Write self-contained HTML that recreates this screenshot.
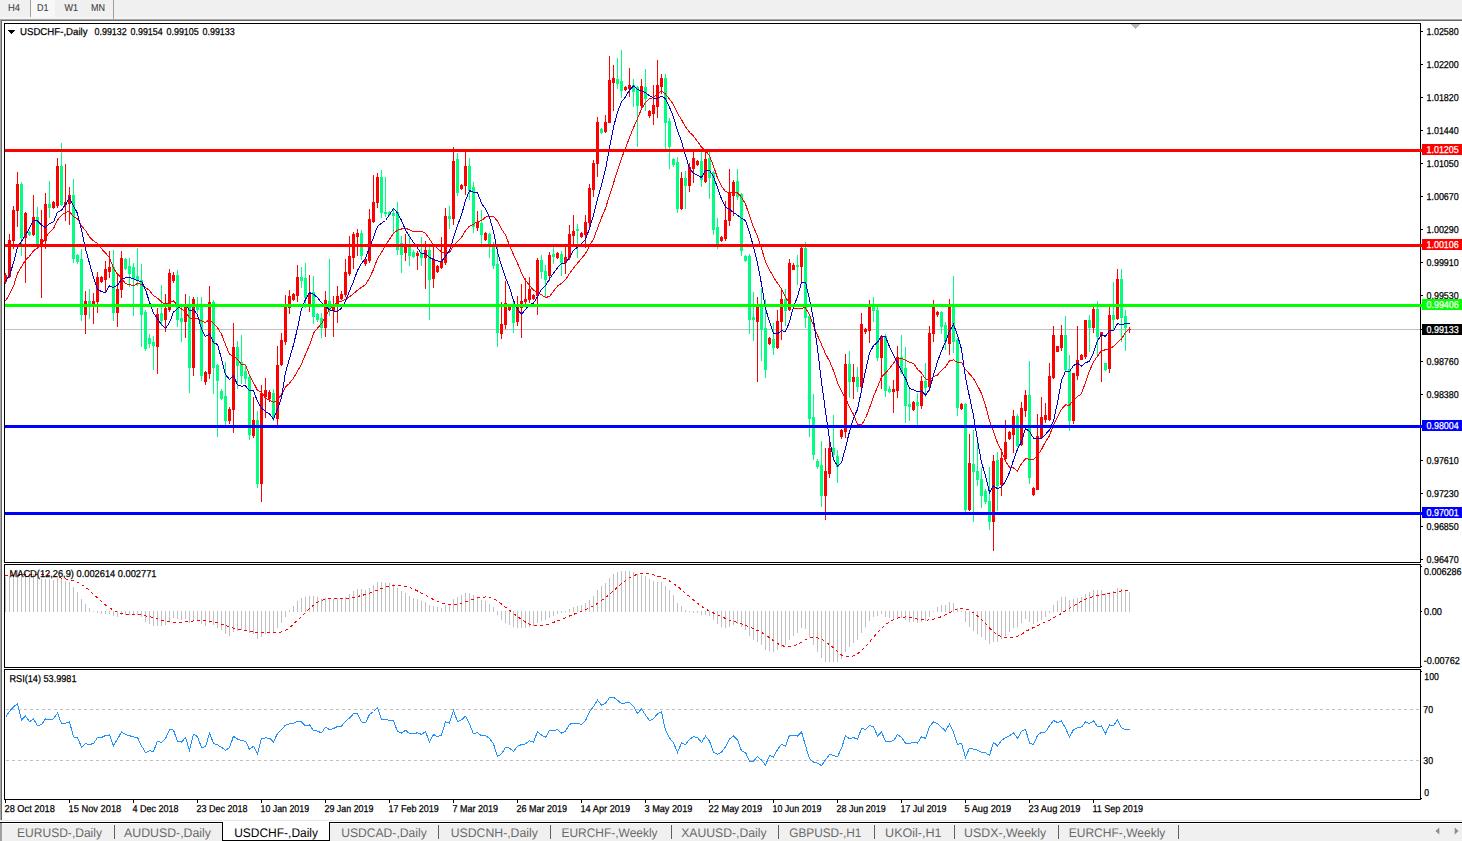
<!DOCTYPE html>
<html><head><meta charset="utf-8"><title>USDCHF-,Daily</title>
<style>html,body{margin:0;padding:0;background:#fff;overflow:hidden}body{width:1462px;height:841px;font-family:"Liberation Sans",sans-serif}text{text-rendering:geometricPrecision}</style></head>
<body>
<svg width="1462" height="841" viewBox="0 0 1462 841" shape-rendering="crispEdges" font-family="'Liberation Sans', sans-serif" style="display:block">
<rect x="0" y="0" width="1462" height="841" fill="#ffffff"/>
<rect x="0" y="0" width="1462" height="19" fill="#f0f0f0"/>
<rect x="0" y="17" width="1462" height="2" fill="#f4f4f4"/>
<rect x="0" y="19" width="1462" height="1" fill="#a6a6a6"/>
<rect x="0" y="20" width="1462" height="1" fill="#696969"/>
<rect x="0" y="19" width="1" height="802" fill="#a6a6a6"/>
<rect x="1" y="20" width="1" height="801" fill="#696969"/>
<rect x="31" y="0" width="24" height="17" fill="#f8f8f8"/>
<rect x="30" y="0" width="1" height="17" fill="#a0a0a0"/>
<rect x="113" y="0" width="1" height="19" fill="#a0a0a0"/>
<text x="8" y="11" font-size="10" fill="#404040" stroke="#404040" stroke-width="0.1" textLength="12" lengthAdjust="spacingAndGlyphs" >H4</text>
<text x="37" y="11" font-size="10" fill="#404040" stroke="#404040" stroke-width="0.1" textLength="11.5" lengthAdjust="spacingAndGlyphs" >D1</text>
<text x="64.5" y="11" font-size="10" fill="#404040" stroke="#404040" stroke-width="0.1" textLength="13.5" lengthAdjust="spacingAndGlyphs" >W1</text>
<text x="91" y="11" font-size="10" fill="#404040" stroke="#404040" stroke-width="0.1" textLength="14" lengthAdjust="spacingAndGlyphs" >MN</text>
<rect x="4" y="23" width="1417" height="1" fill="#000"/>
<rect x="4" y="562" width="1417" height="1" fill="#000"/>
<rect x="4" y="23" width="1" height="540" fill="#000"/>
<rect x="1420" y="23" width="1" height="540" fill="#000"/>
<rect x="4" y="564" width="1417" height="1" fill="#000"/>
<rect x="4" y="667" width="1417" height="1" fill="#000"/>
<rect x="4" y="564" width="1" height="104" fill="#000"/>
<rect x="1420" y="564" width="1" height="104" fill="#000"/>
<rect x="4" y="669" width="1417" height="1" fill="#000"/>
<rect x="4" y="799" width="1417" height="1" fill="#000"/>
<rect x="4" y="669" width="1" height="131" fill="#000"/>
<rect x="1420" y="669" width="1" height="131" fill="#000"/>
<rect x="5" y="329" width="1415" height="1" fill="#c0c0c0"/>
<rect x="5" y="273" width="1" height="11" fill="#ff0000"/>
<rect x="4" y="275" width="3" height="7" fill="#ff0000"/>
<rect x="9" y="234" width="1" height="44" fill="#ff0000"/>
<rect x="8" y="240" width="3" height="37" fill="#ff0000"/>
<rect x="13" y="206" width="1" height="43" fill="#ff0000"/>
<rect x="12" y="210" width="3" height="31" fill="#ff0000"/>
<rect x="17" y="172" width="1" height="55" fill="#ff0000"/>
<rect x="16" y="184" width="3" height="27" fill="#ff0000"/>
<rect x="21" y="182" width="1" height="74" fill="#00ff80"/>
<rect x="20" y="184" width="3" height="54" fill="#00ff80"/>
<rect x="25" y="212" width="1" height="71" fill="#ff0000"/>
<rect x="24" y="213" width="3" height="25" fill="#ff0000"/>
<rect x="29" y="231" width="1" height="5" fill="#00ff80"/>
<rect x="28" y="232" width="3" height="3" fill="#00ff80"/>
<rect x="33" y="195" width="1" height="41" fill="#ff0000"/>
<rect x="32" y="217" width="3" height="18" fill="#ff0000"/>
<rect x="37" y="207" width="1" height="38" fill="#00ff80"/>
<rect x="36" y="217" width="3" height="28" fill="#00ff80"/>
<rect x="41" y="210" width="1" height="88" fill="#ff0000"/>
<rect x="40" y="239" width="3" height="6" fill="#ff0000"/>
<rect x="45" y="193" width="1" height="56" fill="#ff0000"/>
<rect x="44" y="204" width="3" height="37" fill="#ff0000"/>
<rect x="49" y="181" width="1" height="37" fill="#00ff80"/>
<rect x="48" y="204" width="3" height="4" fill="#00ff80"/>
<rect x="53" y="201" width="1" height="8" fill="#ff0000"/>
<rect x="52" y="202" width="3" height="6" fill="#ff0000"/>
<rect x="57" y="158" width="1" height="50" fill="#ff0000"/>
<rect x="56" y="166" width="3" height="40" fill="#ff0000"/>
<rect x="61" y="143" width="1" height="63" fill="#00ff80"/>
<rect x="60" y="166" width="3" height="39" fill="#00ff80"/>
<rect x="65" y="164" width="1" height="57" fill="#ff0000"/>
<rect x="64" y="202" width="3" height="3" fill="#ff0000"/>
<rect x="69" y="187" width="1" height="38" fill="#ff0000"/>
<rect x="68" y="195" width="3" height="9" fill="#ff0000"/>
<rect x="73" y="179" width="1" height="84" fill="#00ff80"/>
<rect x="72" y="195" width="3" height="64" fill="#00ff80"/>
<rect x="77" y="254" width="1" height="10" fill="#00ff80"/>
<rect x="76" y="255" width="3" height="7" fill="#00ff80"/>
<rect x="81" y="249" width="1" height="72" fill="#00ff80"/>
<rect x="80" y="259" width="3" height="56" fill="#00ff80"/>
<rect x="85" y="291" width="1" height="43" fill="#ff0000"/>
<rect x="84" y="301" width="3" height="14" fill="#ff0000"/>
<rect x="89" y="289" width="1" height="30" fill="#00ff80"/>
<rect x="88" y="301" width="3" height="4" fill="#00ff80"/>
<rect x="93" y="293" width="1" height="31" fill="#ff0000"/>
<rect x="92" y="301" width="3" height="4" fill="#ff0000"/>
<rect x="97" y="272" width="1" height="41" fill="#ff0000"/>
<rect x="96" y="277" width="3" height="25" fill="#ff0000"/>
<rect x="101" y="276" width="1" height="7" fill="#ff0000"/>
<rect x="100" y="277" width="3" height="5" fill="#ff0000"/>
<rect x="105" y="261" width="1" height="31" fill="#ff0000"/>
<rect x="104" y="269" width="3" height="11" fill="#ff0000"/>
<rect x="109" y="251" width="1" height="27" fill="#ff0000"/>
<rect x="108" y="267" width="3" height="5" fill="#ff0000"/>
<rect x="113" y="250" width="1" height="71" fill="#00ff80"/>
<rect x="112" y="267" width="3" height="46" fill="#00ff80"/>
<rect x="117" y="275" width="1" height="52" fill="#ff0000"/>
<rect x="116" y="289" width="3" height="24" fill="#ff0000"/>
<rect x="121" y="251" width="1" height="47" fill="#ff0000"/>
<rect x="120" y="258" width="3" height="32" fill="#ff0000"/>
<rect x="125" y="258" width="1" height="12" fill="#00ff80"/>
<rect x="124" y="259" width="3" height="10" fill="#00ff80"/>
<rect x="129" y="258" width="1" height="29" fill="#00ff80"/>
<rect x="128" y="266" width="3" height="8" fill="#00ff80"/>
<rect x="133" y="263" width="1" height="53" fill="#00ff80"/>
<rect x="132" y="267" width="3" height="12" fill="#00ff80"/>
<rect x="137" y="248" width="1" height="38" fill="#00ff80"/>
<rect x="136" y="276" width="3" height="5" fill="#00ff80"/>
<rect x="141" y="264" width="1" height="83" fill="#00ff80"/>
<rect x="140" y="280" width="3" height="35" fill="#00ff80"/>
<rect x="145" y="310" width="1" height="41" fill="#00ff80"/>
<rect x="144" y="312" width="3" height="37" fill="#00ff80"/>
<rect x="149" y="334" width="1" height="14" fill="#00ff80"/>
<rect x="148" y="338" width="3" height="6" fill="#00ff80"/>
<rect x="153" y="336" width="1" height="34" fill="#00ff80"/>
<rect x="152" y="342" width="3" height="4" fill="#00ff80"/>
<rect x="157" y="308" width="1" height="66" fill="#ff0000"/>
<rect x="156" y="314" width="3" height="33" fill="#ff0000"/>
<rect x="161" y="285" width="1" height="41" fill="#00ff80"/>
<rect x="160" y="313" width="3" height="8" fill="#00ff80"/>
<rect x="165" y="294" width="1" height="38" fill="#ff0000"/>
<rect x="164" y="308" width="3" height="12" fill="#ff0000"/>
<rect x="169" y="269" width="1" height="43" fill="#ff0000"/>
<rect x="168" y="273" width="3" height="37" fill="#ff0000"/>
<rect x="173" y="272" width="1" height="11" fill="#ff0000"/>
<rect x="172" y="275" width="3" height="6" fill="#ff0000"/>
<rect x="177" y="270" width="1" height="57" fill="#00ff80"/>
<rect x="176" y="275" width="3" height="45" fill="#00ff80"/>
<rect x="181" y="306" width="1" height="36" fill="#00ff80"/>
<rect x="180" y="318" width="3" height="4" fill="#00ff80"/>
<rect x="185" y="294" width="1" height="44" fill="#ff0000"/>
<rect x="184" y="306" width="3" height="16" fill="#ff0000"/>
<rect x="189" y="296" width="1" height="97" fill="#00ff80"/>
<rect x="188" y="306" width="3" height="62" fill="#00ff80"/>
<rect x="193" y="297" width="1" height="79" fill="#ff0000"/>
<rect x="192" y="299" width="3" height="69" fill="#ff0000"/>
<rect x="197" y="297" width="1" height="16" fill="#00ff80"/>
<rect x="196" y="306" width="3" height="4" fill="#00ff80"/>
<rect x="201" y="297" width="1" height="84" fill="#00ff80"/>
<rect x="200" y="307" width="3" height="69" fill="#00ff80"/>
<rect x="205" y="371" width="1" height="14" fill="#ff0000"/>
<rect x="204" y="372" width="3" height="10" fill="#ff0000"/>
<rect x="209" y="286" width="1" height="93" fill="#ff0000"/>
<rect x="208" y="302" width="3" height="72" fill="#ff0000"/>
<rect x="213" y="300" width="1" height="94" fill="#00ff80"/>
<rect x="212" y="302" width="3" height="66" fill="#00ff80"/>
<rect x="217" y="364" width="1" height="73" fill="#00ff80"/>
<rect x="216" y="365" width="3" height="16" fill="#00ff80"/>
<rect x="221" y="389" width="1" height="11" fill="#00ff80"/>
<rect x="220" y="391" width="3" height="8" fill="#00ff80"/>
<rect x="225" y="362" width="1" height="63" fill="#00ff80"/>
<rect x="224" y="396" width="3" height="25" fill="#00ff80"/>
<rect x="229" y="407" width="1" height="17" fill="#ff0000"/>
<rect x="228" y="409" width="3" height="12" fill="#ff0000"/>
<rect x="233" y="323" width="1" height="110" fill="#ff0000"/>
<rect x="232" y="347" width="3" height="63" fill="#ff0000"/>
<rect x="237" y="341" width="1" height="48" fill="#00ff80"/>
<rect x="236" y="347" width="3" height="19" fill="#00ff80"/>
<rect x="241" y="335" width="1" height="49" fill="#00ff80"/>
<rect x="240" y="362" width="3" height="14" fill="#00ff80"/>
<rect x="245" y="364" width="1" height="20" fill="#00ff80"/>
<rect x="244" y="371" width="3" height="8" fill="#00ff80"/>
<rect x="249" y="375" width="1" height="65" fill="#00ff80"/>
<rect x="248" y="377" width="3" height="58" fill="#00ff80"/>
<rect x="253" y="397" width="1" height="41" fill="#ff0000"/>
<rect x="252" y="420" width="3" height="16" fill="#ff0000"/>
<rect x="257" y="411" width="1" height="77" fill="#00ff80"/>
<rect x="256" y="420" width="3" height="64" fill="#00ff80"/>
<rect x="261" y="385" width="1" height="117" fill="#ff0000"/>
<rect x="260" y="393" width="3" height="91" fill="#ff0000"/>
<rect x="265" y="378" width="1" height="40" fill="#ff0000"/>
<rect x="264" y="390" width="3" height="7" fill="#ff0000"/>
<rect x="269" y="390" width="1" height="12" fill="#ff0000"/>
<rect x="268" y="392" width="3" height="7" fill="#ff0000"/>
<rect x="273" y="389" width="1" height="32" fill="#00ff80"/>
<rect x="272" y="393" width="3" height="24" fill="#00ff80"/>
<rect x="277" y="346" width="1" height="80" fill="#ff0000"/>
<rect x="276" y="365" width="3" height="54" fill="#ff0000"/>
<rect x="281" y="333" width="1" height="33" fill="#ff0000"/>
<rect x="280" y="340" width="3" height="25" fill="#ff0000"/>
<rect x="285" y="295" width="1" height="50" fill="#ff0000"/>
<rect x="284" y="306" width="3" height="36" fill="#ff0000"/>
<rect x="289" y="290" width="1" height="24" fill="#ff0000"/>
<rect x="288" y="296" width="3" height="12" fill="#ff0000"/>
<rect x="293" y="293" width="1" height="8" fill="#ff0000"/>
<rect x="292" y="294" width="3" height="6" fill="#ff0000"/>
<rect x="297" y="265" width="1" height="37" fill="#ff0000"/>
<rect x="296" y="277" width="3" height="19" fill="#ff0000"/>
<rect x="301" y="267" width="1" height="21" fill="#00ff80"/>
<rect x="300" y="277" width="3" height="4" fill="#00ff80"/>
<rect x="305" y="263" width="1" height="45" fill="#00ff80"/>
<rect x="304" y="278" width="3" height="20" fill="#00ff80"/>
<rect x="309" y="275" width="1" height="37" fill="#ff0000"/>
<rect x="308" y="293" width="3" height="12" fill="#ff0000"/>
<rect x="313" y="276" width="1" height="48" fill="#00ff80"/>
<rect x="312" y="292" width="3" height="25" fill="#00ff80"/>
<rect x="317" y="313" width="1" height="9" fill="#00ff80"/>
<rect x="316" y="314" width="3" height="6" fill="#00ff80"/>
<rect x="321" y="313" width="1" height="25" fill="#00ff80"/>
<rect x="320" y="318" width="3" height="10" fill="#00ff80"/>
<rect x="325" y="291" width="1" height="46" fill="#ff0000"/>
<rect x="324" y="300" width="3" height="28" fill="#ff0000"/>
<rect x="329" y="259" width="1" height="57" fill="#00ff80"/>
<rect x="328" y="301" width="3" height="9" fill="#00ff80"/>
<rect x="333" y="296" width="1" height="41" fill="#ff0000"/>
<rect x="332" y="305" width="3" height="6" fill="#ff0000"/>
<rect x="337" y="286" width="1" height="37" fill="#ff0000"/>
<rect x="336" y="296" width="3" height="10" fill="#ff0000"/>
<rect x="341" y="291" width="1" height="9" fill="#ff0000"/>
<rect x="340" y="294" width="3" height="5" fill="#ff0000"/>
<rect x="345" y="259" width="1" height="38" fill="#ff0000"/>
<rect x="344" y="272" width="3" height="23" fill="#ff0000"/>
<rect x="349" y="236" width="1" height="40" fill="#ff0000"/>
<rect x="348" y="256" width="3" height="18" fill="#ff0000"/>
<rect x="353" y="232" width="1" height="37" fill="#ff0000"/>
<rect x="352" y="234" width="3" height="24" fill="#ff0000"/>
<rect x="357" y="229" width="1" height="27" fill="#ff0000"/>
<rect x="356" y="233" width="3" height="4" fill="#ff0000"/>
<rect x="361" y="230" width="1" height="30" fill="#00ff80"/>
<rect x="360" y="233" width="3" height="23" fill="#00ff80"/>
<rect x="365" y="258" width="1" height="8" fill="#ff0000"/>
<rect x="364" y="259" width="3" height="5" fill="#ff0000"/>
<rect x="369" y="209" width="1" height="54" fill="#ff0000"/>
<rect x="368" y="219" width="3" height="42" fill="#ff0000"/>
<rect x="373" y="175" width="1" height="48" fill="#ff0000"/>
<rect x="372" y="202" width="3" height="20" fill="#ff0000"/>
<rect x="377" y="173" width="1" height="35" fill="#ff0000"/>
<rect x="376" y="177" width="3" height="26" fill="#ff0000"/>
<rect x="381" y="170" width="1" height="48" fill="#00ff80"/>
<rect x="380" y="177" width="3" height="36" fill="#00ff80"/>
<rect x="385" y="177" width="1" height="40" fill="#00ff80"/>
<rect x="384" y="212" width="3" height="2" fill="#00ff80"/>
<rect x="389" y="211" width="1" height="5" fill="#00ff80"/>
<rect x="388" y="212" width="3" height="3" fill="#00ff80"/>
<rect x="393" y="209" width="1" height="24" fill="#00ff80"/>
<rect x="392" y="213" width="3" height="3" fill="#00ff80"/>
<rect x="397" y="202" width="1" height="53" fill="#00ff80"/>
<rect x="396" y="212" width="3" height="38" fill="#00ff80"/>
<rect x="401" y="236" width="1" height="37" fill="#00ff80"/>
<rect x="400" y="243" width="3" height="12" fill="#00ff80"/>
<rect x="405" y="234" width="1" height="27" fill="#ff0000"/>
<rect x="404" y="245" width="3" height="8" fill="#ff0000"/>
<rect x="409" y="234" width="1" height="32" fill="#00ff80"/>
<rect x="408" y="247" width="3" height="9" fill="#00ff80"/>
<rect x="413" y="250" width="1" height="8" fill="#00ff80"/>
<rect x="412" y="252" width="3" height="5" fill="#00ff80"/>
<rect x="417" y="251" width="1" height="19" fill="#ff0000"/>
<rect x="416" y="253" width="3" height="3" fill="#ff0000"/>
<rect x="421" y="237" width="1" height="29" fill="#00ff80"/>
<rect x="420" y="253" width="3" height="5" fill="#00ff80"/>
<rect x="425" y="241" width="1" height="48" fill="#ff0000"/>
<rect x="424" y="250" width="3" height="8" fill="#ff0000"/>
<rect x="429" y="246" width="1" height="74" fill="#00ff80"/>
<rect x="428" y="250" width="3" height="30" fill="#00ff80"/>
<rect x="433" y="247" width="1" height="41" fill="#ff0000"/>
<rect x="432" y="259" width="3" height="20" fill="#ff0000"/>
<rect x="437" y="265" width="1" height="8" fill="#ff0000"/>
<rect x="436" y="266" width="3" height="6" fill="#ff0000"/>
<rect x="441" y="237" width="1" height="32" fill="#ff0000"/>
<rect x="440" y="261" width="3" height="7" fill="#ff0000"/>
<rect x="445" y="208" width="1" height="57" fill="#ff0000"/>
<rect x="444" y="216" width="3" height="47" fill="#ff0000"/>
<rect x="449" y="206" width="1" height="23" fill="#00ff80"/>
<rect x="448" y="216" width="3" height="3" fill="#00ff80"/>
<rect x="453" y="147" width="1" height="78" fill="#ff0000"/>
<rect x="452" y="161" width="3" height="58" fill="#ff0000"/>
<rect x="457" y="153" width="1" height="43" fill="#00ff80"/>
<rect x="456" y="159" width="3" height="34" fill="#00ff80"/>
<rect x="461" y="184" width="1" height="6" fill="#ff0000"/>
<rect x="460" y="185" width="3" height="4" fill="#ff0000"/>
<rect x="465" y="152" width="1" height="43" fill="#ff0000"/>
<rect x="464" y="166" width="3" height="20" fill="#ff0000"/>
<rect x="469" y="158" width="1" height="42" fill="#00ff80"/>
<rect x="468" y="166" width="3" height="25" fill="#00ff80"/>
<rect x="473" y="182" width="1" height="51" fill="#00ff80"/>
<rect x="472" y="187" width="3" height="40" fill="#00ff80"/>
<rect x="477" y="211" width="1" height="20" fill="#ff0000"/>
<rect x="476" y="222" width="3" height="6" fill="#ff0000"/>
<rect x="481" y="210" width="1" height="34" fill="#00ff80"/>
<rect x="480" y="223" width="3" height="12" fill="#00ff80"/>
<rect x="485" y="232" width="1" height="9" fill="#ff0000"/>
<rect x="484" y="233" width="3" height="7" fill="#ff0000"/>
<rect x="489" y="233" width="1" height="25" fill="#00ff80"/>
<rect x="488" y="234" width="3" height="10" fill="#00ff80"/>
<rect x="493" y="242" width="1" height="27" fill="#00ff80"/>
<rect x="492" y="247" width="3" height="19" fill="#00ff80"/>
<rect x="497" y="245" width="1" height="102" fill="#00ff80"/>
<rect x="496" y="264" width="3" height="69" fill="#00ff80"/>
<rect x="501" y="302" width="1" height="37" fill="#ff0000"/>
<rect x="500" y="324" width="3" height="10" fill="#ff0000"/>
<rect x="505" y="281" width="1" height="48" fill="#ff0000"/>
<rect x="504" y="303" width="3" height="22" fill="#ff0000"/>
<rect x="509" y="305" width="1" height="6" fill="#ff0000"/>
<rect x="508" y="306" width="3" height="4" fill="#ff0000"/>
<rect x="513" y="302" width="1" height="31" fill="#00ff80"/>
<rect x="512" y="305" width="3" height="18" fill="#00ff80"/>
<rect x="517" y="296" width="1" height="30" fill="#ff0000"/>
<rect x="516" y="306" width="3" height="16" fill="#ff0000"/>
<rect x="521" y="284" width="1" height="54" fill="#ff0000"/>
<rect x="520" y="301" width="3" height="7" fill="#ff0000"/>
<rect x="525" y="278" width="1" height="28" fill="#ff0000"/>
<rect x="524" y="299" width="3" height="3" fill="#ff0000"/>
<rect x="529" y="277" width="1" height="26" fill="#ff0000"/>
<rect x="528" y="289" width="3" height="11" fill="#ff0000"/>
<rect x="533" y="294" width="1" height="6" fill="#ff0000"/>
<rect x="532" y="295" width="3" height="4" fill="#ff0000"/>
<rect x="537" y="258" width="1" height="57" fill="#ff0000"/>
<rect x="536" y="260" width="3" height="36" fill="#ff0000"/>
<rect x="541" y="255" width="1" height="24" fill="#00ff80"/>
<rect x="540" y="260" width="3" height="12" fill="#00ff80"/>
<rect x="545" y="265" width="1" height="32" fill="#00ff80"/>
<rect x="544" y="271" width="3" height="9" fill="#00ff80"/>
<rect x="549" y="252" width="1" height="29" fill="#ff0000"/>
<rect x="548" y="255" width="3" height="21" fill="#ff0000"/>
<rect x="553" y="246" width="1" height="18" fill="#00ff80"/>
<rect x="552" y="254" width="3" height="3" fill="#00ff80"/>
<rect x="557" y="252" width="1" height="7" fill="#ff0000"/>
<rect x="556" y="253" width="3" height="5" fill="#ff0000"/>
<rect x="561" y="251" width="1" height="25" fill="#00ff80"/>
<rect x="560" y="254" width="3" height="9" fill="#00ff80"/>
<rect x="565" y="246" width="1" height="28" fill="#ff0000"/>
<rect x="564" y="257" width="3" height="6" fill="#ff0000"/>
<rect x="569" y="225" width="1" height="35" fill="#ff0000"/>
<rect x="568" y="234" width="3" height="24" fill="#ff0000"/>
<rect x="573" y="215" width="1" height="29" fill="#ff0000"/>
<rect x="572" y="231" width="3" height="5" fill="#ff0000"/>
<rect x="577" y="224" width="1" height="34" fill="#00ff80"/>
<rect x="576" y="229" width="3" height="2" fill="#00ff80"/>
<rect x="581" y="232" width="1" height="6" fill="#ff0000"/>
<rect x="580" y="233" width="3" height="4" fill="#ff0000"/>
<rect x="585" y="215" width="1" height="33" fill="#ff0000"/>
<rect x="584" y="222" width="3" height="13" fill="#ff0000"/>
<rect x="589" y="184" width="1" height="43" fill="#ff0000"/>
<rect x="588" y="188" width="3" height="35" fill="#ff0000"/>
<rect x="593" y="160" width="1" height="37" fill="#ff0000"/>
<rect x="592" y="163" width="3" height="27" fill="#ff0000"/>
<rect x="597" y="117" width="1" height="60" fill="#ff0000"/>
<rect x="596" y="122" width="3" height="42" fill="#ff0000"/>
<rect x="601" y="128" width="1" height="6" fill="#00ff80"/>
<rect x="600" y="129" width="3" height="4" fill="#00ff80"/>
<rect x="605" y="115" width="1" height="18" fill="#ff0000"/>
<rect x="604" y="122" width="3" height="10" fill="#ff0000"/>
<rect x="609" y="56" width="1" height="67" fill="#ff0000"/>
<rect x="608" y="80" width="3" height="43" fill="#ff0000"/>
<rect x="613" y="65" width="1" height="46" fill="#ff0000"/>
<rect x="612" y="78" width="3" height="5" fill="#ff0000"/>
<rect x="617" y="58" width="1" height="31" fill="#00ff80"/>
<rect x="616" y="79" width="3" height="5" fill="#00ff80"/>
<rect x="621" y="50" width="1" height="48" fill="#00ff80"/>
<rect x="620" y="81" width="3" height="10" fill="#00ff80"/>
<rect x="625" y="86" width="1" height="5" fill="#ff0000"/>
<rect x="624" y="87" width="3" height="3" fill="#ff0000"/>
<rect x="629" y="68" width="1" height="29" fill="#ff0000"/>
<rect x="628" y="85" width="3" height="4" fill="#ff0000"/>
<rect x="633" y="79" width="1" height="28" fill="#00ff80"/>
<rect x="632" y="85" width="3" height="7" fill="#00ff80"/>
<rect x="637" y="86" width="1" height="61" fill="#00ff80"/>
<rect x="636" y="87" width="3" height="19" fill="#00ff80"/>
<rect x="641" y="79" width="1" height="29" fill="#ff0000"/>
<rect x="640" y="86" width="3" height="20" fill="#ff0000"/>
<rect x="645" y="69" width="1" height="42" fill="#00ff80"/>
<rect x="644" y="87" width="3" height="12" fill="#00ff80"/>
<rect x="649" y="110" width="1" height="8" fill="#ff0000"/>
<rect x="648" y="111" width="3" height="5" fill="#ff0000"/>
<rect x="653" y="85" width="1" height="40" fill="#ff0000"/>
<rect x="652" y="105" width="3" height="9" fill="#ff0000"/>
<rect x="657" y="60" width="1" height="58" fill="#ff0000"/>
<rect x="656" y="85" width="3" height="22" fill="#ff0000"/>
<rect x="661" y="74" width="1" height="20" fill="#ff0000"/>
<rect x="660" y="78" width="3" height="9" fill="#ff0000"/>
<rect x="665" y="74" width="1" height="76" fill="#00ff80"/>
<rect x="664" y="78" width="3" height="45" fill="#00ff80"/>
<rect x="669" y="118" width="1" height="51" fill="#00ff80"/>
<rect x="668" y="121" width="3" height="26" fill="#00ff80"/>
<rect x="673" y="158" width="1" height="9" fill="#00ff80"/>
<rect x="672" y="159" width="3" height="6" fill="#00ff80"/>
<rect x="677" y="157" width="1" height="56" fill="#00ff80"/>
<rect x="676" y="162" width="3" height="47" fill="#00ff80"/>
<rect x="681" y="172" width="1" height="38" fill="#ff0000"/>
<rect x="680" y="178" width="3" height="31" fill="#ff0000"/>
<rect x="685" y="171" width="1" height="38" fill="#00ff80"/>
<rect x="684" y="178" width="3" height="8" fill="#00ff80"/>
<rect x="689" y="163" width="1" height="29" fill="#ff0000"/>
<rect x="688" y="167" width="3" height="19" fill="#ff0000"/>
<rect x="693" y="152" width="1" height="31" fill="#ff0000"/>
<rect x="692" y="158" width="3" height="11" fill="#ff0000"/>
<rect x="697" y="160" width="1" height="6" fill="#ff0000"/>
<rect x="696" y="161" width="3" height="4" fill="#ff0000"/>
<rect x="701" y="151" width="1" height="36" fill="#00ff80"/>
<rect x="700" y="161" width="3" height="19" fill="#00ff80"/>
<rect x="705" y="150" width="1" height="33" fill="#ff0000"/>
<rect x="704" y="159" width="3" height="23" fill="#ff0000"/>
<rect x="709" y="152" width="1" height="47" fill="#00ff80"/>
<rect x="708" y="158" width="3" height="20" fill="#00ff80"/>
<rect x="713" y="171" width="1" height="64" fill="#00ff80"/>
<rect x="712" y="172" width="3" height="58" fill="#00ff80"/>
<rect x="717" y="218" width="1" height="31" fill="#00ff80"/>
<rect x="716" y="227" width="3" height="17" fill="#00ff80"/>
<rect x="721" y="236" width="1" height="6" fill="#ff0000"/>
<rect x="720" y="237" width="3" height="4" fill="#ff0000"/>
<rect x="725" y="201" width="1" height="40" fill="#ff0000"/>
<rect x="724" y="220" width="3" height="19" fill="#ff0000"/>
<rect x="729" y="169" width="1" height="57" fill="#ff0000"/>
<rect x="728" y="193" width="3" height="28" fill="#ff0000"/>
<rect x="733" y="180" width="1" height="36" fill="#ff0000"/>
<rect x="732" y="182" width="3" height="14" fill="#ff0000"/>
<rect x="737" y="169" width="1" height="31" fill="#00ff80"/>
<rect x="736" y="181" width="3" height="16" fill="#00ff80"/>
<rect x="741" y="193" width="1" height="63" fill="#00ff80"/>
<rect x="740" y="194" width="3" height="57" fill="#00ff80"/>
<rect x="745" y="255" width="1" height="7" fill="#00ff80"/>
<rect x="744" y="256" width="3" height="5" fill="#00ff80"/>
<rect x="749" y="254" width="1" height="80" fill="#00ff80"/>
<rect x="748" y="256" width="3" height="64" fill="#00ff80"/>
<rect x="753" y="292" width="1" height="49" fill="#00ff80"/>
<rect x="752" y="317" width="3" height="3" fill="#00ff80"/>
<rect x="757" y="297" width="1" height="85" fill="#ff0000"/>
<rect x="756" y="306" width="3" height="16" fill="#ff0000"/>
<rect x="761" y="288" width="1" height="73" fill="#00ff80"/>
<rect x="760" y="306" width="3" height="24" fill="#00ff80"/>
<rect x="765" y="299" width="1" height="79" fill="#00ff80"/>
<rect x="764" y="328" width="3" height="42" fill="#00ff80"/>
<rect x="769" y="337" width="1" height="8" fill="#ff0000"/>
<rect x="768" y="338" width="3" height="6" fill="#ff0000"/>
<rect x="773" y="323" width="1" height="32" fill="#00ff80"/>
<rect x="772" y="339" width="3" height="9" fill="#00ff80"/>
<rect x="777" y="310" width="1" height="39" fill="#ff0000"/>
<rect x="776" y="321" width="3" height="27" fill="#ff0000"/>
<rect x="781" y="288" width="1" height="52" fill="#ff0000"/>
<rect x="780" y="299" width="3" height="23" fill="#ff0000"/>
<rect x="785" y="289" width="1" height="37" fill="#00ff80"/>
<rect x="784" y="299" width="3" height="12" fill="#00ff80"/>
<rect x="789" y="259" width="1" height="52" fill="#ff0000"/>
<rect x="788" y="263" width="3" height="47" fill="#ff0000"/>
<rect x="793" y="263" width="1" height="7" fill="#ff0000"/>
<rect x="792" y="265" width="3" height="5" fill="#ff0000"/>
<rect x="797" y="255" width="1" height="30" fill="#00ff80"/>
<rect x="796" y="265" width="3" height="2" fill="#00ff80"/>
<rect x="801" y="247" width="1" height="35" fill="#ff0000"/>
<rect x="800" y="248" width="3" height="19" fill="#ff0000"/>
<rect x="805" y="242" width="1" height="86" fill="#00ff80"/>
<rect x="804" y="248" width="3" height="70" fill="#00ff80"/>
<rect x="809" y="314" width="1" height="123" fill="#00ff80"/>
<rect x="808" y="316" width="3" height="103" fill="#00ff80"/>
<rect x="813" y="394" width="1" height="66" fill="#00ff80"/>
<rect x="812" y="417" width="3" height="38" fill="#00ff80"/>
<rect x="817" y="459" width="1" height="10" fill="#00ff80"/>
<rect x="816" y="461" width="3" height="6" fill="#00ff80"/>
<rect x="821" y="441" width="1" height="66" fill="#00ff80"/>
<rect x="820" y="465" width="3" height="31" fill="#00ff80"/>
<rect x="825" y="448" width="1" height="72" fill="#ff0000"/>
<rect x="824" y="471" width="3" height="25" fill="#ff0000"/>
<rect x="829" y="441" width="1" height="37" fill="#ff0000"/>
<rect x="828" y="448" width="3" height="26" fill="#ff0000"/>
<rect x="833" y="415" width="1" height="46" fill="#00ff80"/>
<rect x="832" y="448" width="3" height="7" fill="#00ff80"/>
<rect x="837" y="450" width="1" height="33" fill="#00ff80"/>
<rect x="836" y="456" width="3" height="11" fill="#00ff80"/>
<rect x="841" y="429" width="1" height="10" fill="#ff0000"/>
<rect x="840" y="430" width="3" height="7" fill="#ff0000"/>
<rect x="845" y="354" width="1" height="84" fill="#ff0000"/>
<rect x="844" y="364" width="3" height="68" fill="#ff0000"/>
<rect x="849" y="351" width="1" height="47" fill="#00ff80"/>
<rect x="848" y="364" width="3" height="18" fill="#00ff80"/>
<rect x="853" y="364" width="1" height="35" fill="#ff0000"/>
<rect x="852" y="377" width="3" height="5" fill="#ff0000"/>
<rect x="857" y="367" width="1" height="25" fill="#00ff80"/>
<rect x="856" y="377" width="3" height="10" fill="#00ff80"/>
<rect x="861" y="313" width="1" height="76" fill="#ff0000"/>
<rect x="860" y="324" width="3" height="63" fill="#ff0000"/>
<rect x="865" y="328" width="1" height="6" fill="#ff0000"/>
<rect x="864" y="329" width="3" height="3" fill="#ff0000"/>
<rect x="869" y="300" width="1" height="43" fill="#ff0000"/>
<rect x="868" y="306" width="3" height="25" fill="#ff0000"/>
<rect x="873" y="297" width="1" height="25" fill="#00ff80"/>
<rect x="872" y="306" width="3" height="5" fill="#00ff80"/>
<rect x="877" y="306" width="1" height="55" fill="#00ff80"/>
<rect x="876" y="310" width="3" height="48" fill="#00ff80"/>
<rect x="881" y="335" width="1" height="54" fill="#ff0000"/>
<rect x="880" y="336" width="3" height="22" fill="#ff0000"/>
<rect x="885" y="334" width="1" height="63" fill="#00ff80"/>
<rect x="884" y="336" width="3" height="55" fill="#00ff80"/>
<rect x="889" y="386" width="1" height="7" fill="#00ff80"/>
<rect x="888" y="389" width="3" height="3" fill="#00ff80"/>
<rect x="893" y="380" width="1" height="33" fill="#ff0000"/>
<rect x="892" y="389" width="3" height="3" fill="#ff0000"/>
<rect x="897" y="346" width="1" height="52" fill="#ff0000"/>
<rect x="896" y="357" width="3" height="34" fill="#ff0000"/>
<rect x="901" y="335" width="1" height="39" fill="#00ff80"/>
<rect x="900" y="357" width="3" height="16" fill="#00ff80"/>
<rect x="905" y="347" width="1" height="76" fill="#00ff80"/>
<rect x="904" y="368" width="3" height="38" fill="#00ff80"/>
<rect x="909" y="387" width="1" height="34" fill="#00ff80"/>
<rect x="908" y="404" width="3" height="3" fill="#00ff80"/>
<rect x="913" y="401" width="1" height="10" fill="#ff0000"/>
<rect x="912" y="402" width="3" height="8" fill="#ff0000"/>
<rect x="917" y="393" width="1" height="33" fill="#00ff80"/>
<rect x="916" y="402" width="3" height="4" fill="#00ff80"/>
<rect x="921" y="376" width="1" height="33" fill="#ff0000"/>
<rect x="920" y="381" width="3" height="25" fill="#ff0000"/>
<rect x="925" y="363" width="1" height="34" fill="#00ff80"/>
<rect x="924" y="381" width="3" height="7" fill="#00ff80"/>
<rect x="929" y="326" width="1" height="65" fill="#ff0000"/>
<rect x="928" y="333" width="3" height="54" fill="#ff0000"/>
<rect x="933" y="300" width="1" height="42" fill="#ff0000"/>
<rect x="932" y="306" width="3" height="28" fill="#ff0000"/>
<rect x="937" y="311" width="1" height="6" fill="#ff0000"/>
<rect x="936" y="312" width="3" height="3" fill="#ff0000"/>
<rect x="941" y="311" width="1" height="23" fill="#00ff80"/>
<rect x="940" y="312" width="3" height="15" fill="#00ff80"/>
<rect x="945" y="322" width="1" height="28" fill="#00ff80"/>
<rect x="944" y="325" width="3" height="17" fill="#00ff80"/>
<rect x="949" y="299" width="1" height="56" fill="#ff0000"/>
<rect x="948" y="306" width="3" height="38" fill="#ff0000"/>
<rect x="953" y="276" width="1" height="77" fill="#00ff80"/>
<rect x="952" y="306" width="3" height="36" fill="#00ff80"/>
<rect x="957" y="338" width="1" height="78" fill="#00ff80"/>
<rect x="956" y="340" width="3" height="68" fill="#00ff80"/>
<rect x="961" y="403" width="1" height="7" fill="#ff0000"/>
<rect x="960" y="404" width="3" height="5" fill="#ff0000"/>
<rect x="965" y="403" width="1" height="109" fill="#00ff80"/>
<rect x="964" y="404" width="3" height="106" fill="#00ff80"/>
<rect x="969" y="434" width="1" height="77" fill="#ff0000"/>
<rect x="968" y="463" width="3" height="47" fill="#ff0000"/>
<rect x="973" y="430" width="1" height="92" fill="#00ff80"/>
<rect x="972" y="464" width="3" height="8" fill="#00ff80"/>
<rect x="977" y="443" width="1" height="43" fill="#00ff80"/>
<rect x="976" y="471" width="3" height="9" fill="#00ff80"/>
<rect x="981" y="468" width="1" height="40" fill="#00ff80"/>
<rect x="980" y="479" width="3" height="17" fill="#00ff80"/>
<rect x="985" y="489" width="1" height="15" fill="#00ff80"/>
<rect x="984" y="491" width="3" height="11" fill="#00ff80"/>
<rect x="989" y="467" width="1" height="63" fill="#00ff80"/>
<rect x="988" y="501" width="3" height="21" fill="#00ff80"/>
<rect x="993" y="455" width="1" height="96" fill="#ff0000"/>
<rect x="992" y="461" width="3" height="61" fill="#ff0000"/>
<rect x="997" y="452" width="1" height="59" fill="#00ff80"/>
<rect x="996" y="460" width="3" height="26" fill="#00ff80"/>
<rect x="1001" y="449" width="1" height="47" fill="#ff0000"/>
<rect x="1000" y="458" width="3" height="27" fill="#ff0000"/>
<rect x="1005" y="420" width="1" height="40" fill="#ff0000"/>
<rect x="1004" y="442" width="3" height="17" fill="#ff0000"/>
<rect x="1009" y="431" width="1" height="9" fill="#ff0000"/>
<rect x="1008" y="432" width="3" height="7" fill="#ff0000"/>
<rect x="1013" y="410" width="1" height="43" fill="#ff0000"/>
<rect x="1012" y="416" width="3" height="19" fill="#ff0000"/>
<rect x="1017" y="414" width="1" height="33" fill="#00ff80"/>
<rect x="1016" y="416" width="3" height="30" fill="#00ff80"/>
<rect x="1021" y="402" width="1" height="44" fill="#ff0000"/>
<rect x="1020" y="408" width="3" height="37" fill="#ff0000"/>
<rect x="1025" y="390" width="1" height="27" fill="#ff0000"/>
<rect x="1024" y="395" width="3" height="16" fill="#ff0000"/>
<rect x="1029" y="361" width="1" height="123" fill="#00ff80"/>
<rect x="1028" y="395" width="3" height="83" fill="#00ff80"/>
<rect x="1033" y="487" width="1" height="9" fill="#ff0000"/>
<rect x="1032" y="488" width="3" height="7" fill="#ff0000"/>
<rect x="1037" y="414" width="1" height="76" fill="#ff0000"/>
<rect x="1036" y="436" width="3" height="54" fill="#ff0000"/>
<rect x="1041" y="397" width="1" height="41" fill="#ff0000"/>
<rect x="1040" y="417" width="3" height="21" fill="#ff0000"/>
<rect x="1045" y="403" width="1" height="20" fill="#ff0000"/>
<rect x="1044" y="415" width="3" height="5" fill="#ff0000"/>
<rect x="1049" y="363" width="1" height="58" fill="#ff0000"/>
<rect x="1048" y="376" width="3" height="44" fill="#ff0000"/>
<rect x="1053" y="326" width="1" height="53" fill="#ff0000"/>
<rect x="1052" y="335" width="3" height="43" fill="#ff0000"/>
<rect x="1057" y="346" width="1" height="6" fill="#ff0000"/>
<rect x="1056" y="346" width="3" height="6" fill="#ff0000"/>
<rect x="1061" y="325" width="1" height="26" fill="#ff0000"/>
<rect x="1060" y="335" width="3" height="13" fill="#ff0000"/>
<rect x="1065" y="316" width="1" height="56" fill="#00ff80"/>
<rect x="1064" y="335" width="3" height="35" fill="#00ff80"/>
<rect x="1069" y="355" width="1" height="76" fill="#00ff80"/>
<rect x="1068" y="369" width="3" height="52" fill="#00ff80"/>
<rect x="1073" y="373" width="1" height="51" fill="#ff0000"/>
<rect x="1072" y="373" width="3" height="48" fill="#ff0000"/>
<rect x="1077" y="326" width="1" height="54" fill="#ff0000"/>
<rect x="1076" y="360" width="3" height="16" fill="#ff0000"/>
<rect x="1081" y="354" width="1" height="6" fill="#ff0000"/>
<rect x="1080" y="355" width="3" height="5" fill="#ff0000"/>
<rect x="1085" y="320" width="1" height="39" fill="#ff0000"/>
<rect x="1084" y="320" width="3" height="37" fill="#ff0000"/>
<rect x="1089" y="315" width="1" height="37" fill="#00ff80"/>
<rect x="1088" y="320" width="3" height="8" fill="#00ff80"/>
<rect x="1093" y="307" width="1" height="26" fill="#ff0000"/>
<rect x="1092" y="309" width="3" height="19" fill="#ff0000"/>
<rect x="1097" y="301" width="1" height="56" fill="#00ff80"/>
<rect x="1096" y="309" width="3" height="28" fill="#00ff80"/>
<rect x="1101" y="332" width="1" height="50" fill="#ff0000"/>
<rect x="1100" y="332" width="3" height="4" fill="#ff0000"/>
<rect x="1105" y="363" width="1" height="8" fill="#00ff80"/>
<rect x="1104" y="363" width="3" height="7" fill="#00ff80"/>
<rect x="1109" y="307" width="1" height="66" fill="#ff0000"/>
<rect x="1108" y="315" width="3" height="54" fill="#ff0000"/>
<rect x="1113" y="282" width="1" height="49" fill="#00ff80"/>
<rect x="1112" y="315" width="3" height="5" fill="#00ff80"/>
<rect x="1117" y="269" width="1" height="51" fill="#ff0000"/>
<rect x="1116" y="279" width="3" height="40" fill="#ff0000"/>
<rect x="1121" y="269" width="1" height="73" fill="#00ff80"/>
<rect x="1120" y="279" width="3" height="39" fill="#00ff80"/>
<rect x="1125" y="310" width="1" height="41" fill="#00ff80"/>
<rect x="1124" y="316" width="3" height="12" fill="#00ff80"/>
<rect x="1129" y="327" width="1" height="6" fill="#ff0000"/>
<rect x="1128" y="329" width="3" height="1" fill="#ff0000"/>
<path d="M5.5 300.9 L9.5 294.4 L13.5 286.4 L17.5 273.3 L21.5 266.7 L25.5 260.0 L29.5 256.3 L33.5 250.7 L37.5 248.0 L41.5 243.9 L45.5 237.6 L49.5 232.4 L53.5 228.5 L57.5 220.2 L61.5 215.2 L65.5 212.5 L69.5 211.4 L73.5 216.8 L77.5 218.5 L81.5 225.8 L85.5 230.5 L89.5 236.8 L93.5 240.8 L97.5 243.5 L101.5 248.7 L105.5 253.1 L109.5 257.7 L113.5 268.2 L117.5 274.2 L121.5 278.2 L125.5 283.5 L129.5 284.6 L133.5 285.8 L137.5 283.4 L141.5 284.4 L145.5 287.5 L149.5 290.6 L153.5 295.5 L157.5 298.1 L161.5 301.9 L165.5 304.8 L169.5 301.9 L173.5 300.9 L177.5 305.4 L181.5 309.1 L185.5 311.4 L189.5 317.8 L193.5 319.1 L197.5 318.7 L201.5 320.6 L205.5 322.6 L209.5 319.5 L213.5 323.4 L217.5 327.6 L221.5 334.1 L225.5 344.7 L229.5 354.3 L233.5 356.2 L237.5 359.4 L241.5 364.4 L245.5 365.1 L249.5 374.9 L253.5 382.7 L257.5 390.4 L261.5 391.9 L265.5 398.2 L269.5 399.9 L273.5 402.5 L277.5 400.1 L281.5 394.3 L285.5 386.9 L289.5 383.3 L293.5 378.1 L297.5 371.1 L301.5 364.1 L305.5 354.3 L309.5 345.2 L313.5 333.3 L317.5 328.1 L321.5 323.6 L325.5 317.1 L329.5 309.4 L333.5 305.1 L337.5 302.0 L341.5 301.1 L345.5 299.4 L349.5 296.7 L353.5 293.6 L357.5 290.2 L361.5 287.2 L365.5 284.8 L369.5 277.8 L373.5 269.4 L377.5 258.6 L381.5 252.4 L385.5 245.5 L389.5 239.1 L393.5 233.4 L397.5 230.2 L401.5 229.0 L405.5 228.2 L409.5 229.8 L413.5 231.5 L417.5 231.3 L421.5 231.2 L425.5 233.4 L429.5 239.0 L433.5 244.9 L437.5 248.6 L441.5 252.0 L445.5 252.1 L449.5 252.3 L453.5 245.9 L457.5 241.5 L461.5 237.2 L465.5 230.8 L469.5 226.1 L473.5 224.2 L477.5 221.6 L481.5 220.6 L485.5 217.2 L489.5 216.1 L493.5 216.1 L497.5 221.3 L501.5 229.0 L505.5 235.0 L509.5 245.4 L513.5 254.6 L517.5 263.3 L521.5 272.9 L525.5 280.6 L529.5 285.1 L533.5 290.3 L537.5 292.1 L541.5 294.9 L545.5 297.4 L549.5 296.6 L553.5 291.2 L557.5 286.1 L561.5 283.3 L565.5 279.8 L569.5 273.4 L573.5 268.1 L577.5 263.1 L581.5 258.4 L585.5 253.6 L589.5 245.9 L593.5 239.0 L597.5 228.3 L601.5 217.8 L605.5 208.3 L609.5 195.6 L613.5 183.1 L617.5 170.4 L621.5 158.5 L625.5 148.0 L629.5 137.6 L633.5 127.6 L637.5 118.6 L641.5 108.9 L645.5 102.5 L649.5 98.8 L653.5 97.6 L657.5 94.1 L661.5 91.0 L665.5 94.1 L669.5 99.0 L673.5 104.8 L677.5 113.2 L681.5 119.7 L685.5 126.9 L689.5 132.3 L693.5 136.0 L697.5 141.4 L701.5 147.1 L705.5 150.6 L709.5 155.8 L713.5 166.1 L717.5 178.0 L721.5 186.1 L725.5 191.4 L729.5 193.4 L733.5 191.4 L737.5 192.8 L741.5 197.4 L745.5 204.1 L749.5 215.7 L753.5 227.1 L757.5 236.1 L761.5 248.3 L765.5 262.0 L769.5 269.7 L773.5 277.1 L777.5 283.1 L781.5 288.8 L785.5 297.2 L789.5 303.0 L793.5 307.9 L797.5 309.0 L801.5 308.1 L805.5 307.9 L809.5 315.0 L813.5 325.6 L817.5 335.4 L821.5 344.4 L825.5 353.9 L829.5 361.1 L833.5 370.6 L837.5 382.6 L841.5 391.1 L845.5 398.4 L849.5 406.7 L853.5 414.6 L857.5 424.5 L861.5 424.9 L865.5 418.5 L869.5 407.9 L873.5 396.7 L877.5 386.9 L881.5 377.2 L885.5 373.1 L889.5 368.6 L893.5 363.1 L897.5 357.9 L901.5 358.5 L905.5 360.2 L909.5 362.4 L913.5 363.4 L917.5 369.3 L921.5 373.0 L925.5 378.9 L929.5 380.4 L933.5 376.7 L937.5 375.0 L941.5 370.4 L945.5 366.9 L949.5 360.9 L953.5 359.9 L957.5 362.4 L961.5 362.2 L965.5 369.6 L969.5 373.9 L973.5 378.6 L977.5 385.7 L981.5 393.4 L985.5 405.5 L989.5 420.9 L993.5 431.6 L997.5 442.9 L1001.5 451.2 L1005.5 460.9 L1009.5 467.4 L1013.5 467.9 L1017.5 470.9 L1021.5 463.6 L1025.5 458.8 L1029.5 459.2 L1033.5 459.8 L1037.5 455.5 L1041.5 449.4 L1045.5 441.8 L1049.5 435.7 L1053.5 424.9 L1057.5 416.9 L1061.5 409.3 L1065.5 404.9 L1069.5 405.2 L1073.5 400.0 L1077.5 396.6 L1081.5 393.7 L1085.5 382.4 L1089.5 371.0 L1093.5 361.9 L1097.5 356.2 L1101.5 350.3 L1105.5 349.9 L1109.5 348.4 L1113.5 346.6 L1117.5 342.6 L1121.5 338.9 L1125.5 332.2 L1129.5 329.1" fill="none" stroke="#ff0000" stroke-width="1" />
<path d="M5.5 281.3 L9.5 275.3 L13.5 262.8 L17.5 247.5 L21.5 241.3 L25.5 235.0 L29.5 228.4 L33.5 220.1 L37.5 220.8 L41.5 224.9 L45.5 227.8 L49.5 223.5 L53.5 221.9 L57.5 212.1 L61.5 210.4 L65.5 204.2 L69.5 197.9 L73.5 205.8 L77.5 213.5 L81.5 229.6 L85.5 248.9 L89.5 263.2 L93.5 277.4 L97.5 289.1 L101.5 291.6 L105.5 292.6 L109.5 285.8 L113.5 287.5 L117.5 285.2 L121.5 279.1 L125.5 277.9 L129.5 277.5 L133.5 278.9 L137.5 280.9 L141.5 281.2 L145.5 289.8 L149.5 302.1 L153.5 313.1 L157.5 318.8 L161.5 324.8 L165.5 328.6 L169.5 322.6 L173.5 312.1 L177.5 308.6 L181.5 305.2 L185.5 304.1 L189.5 310.8 L193.5 309.5 L197.5 314.8 L201.5 329.2 L205.5 336.6 L209.5 333.8 L213.5 342.6 L217.5 344.5 L221.5 358.8 L225.5 374.6 L229.5 379.4 L233.5 375.8 L237.5 384.9 L241.5 386.1 L245.5 385.8 L249.5 390.9 L253.5 390.8 L257.5 401.5 L261.5 408.1 L265.5 411.5 L269.5 413.8 L273.5 419.2 L277.5 409.2 L281.5 397.8 L285.5 372.4 L289.5 358.5 L293.5 344.8 L297.5 328.4 L301.5 308.9 L305.5 299.4 L309.5 292.6 L313.5 294.2 L317.5 297.6 L321.5 302.5 L325.5 305.8 L329.5 309.9 L333.5 310.9 L337.5 311.4 L341.5 308.1 L345.5 301.2 L349.5 290.9 L353.5 281.5 L357.5 270.5 L361.5 263.5 L365.5 258.2 L369.5 247.5 L373.5 237.5 L377.5 226.2 L381.5 223.2 L385.5 220.5 L389.5 214.6 L393.5 208.5 L397.5 212.9 L401.5 220.5 L405.5 230.2 L409.5 236.4 L413.5 242.5 L417.5 247.9 L421.5 253.9 L425.5 253.9 L429.5 257.5 L433.5 259.5 L437.5 260.9 L441.5 261.5 L445.5 256.2 L449.5 250.6 L453.5 237.9 L457.5 225.5 L461.5 214.9 L465.5 200.6 L469.5 190.6 L473.5 192.2 L477.5 192.6 L481.5 203.2 L485.5 208.9 L489.5 217.4 L493.5 231.6 L497.5 251.9 L501.5 265.8 L505.5 277.4 L509.5 287.5 L513.5 300.4 L517.5 309.2 L521.5 314.2 L525.5 309.4 L529.5 304.4 L533.5 303.2 L537.5 296.6 L541.5 289.4 L545.5 285.6 L549.5 279.1 L553.5 273.1 L557.5 267.9 L561.5 263.4 L565.5 262.9 L569.5 257.5 L573.5 250.5 L577.5 247.1 L581.5 243.6 L585.5 239.2 L589.5 228.5 L593.5 215.1 L597.5 199.1 L601.5 185.1 L605.5 169.5 L609.5 147.6 L613.5 127.1 L617.5 112.2 L621.5 101.9 L625.5 96.9 L629.5 90.1 L633.5 85.8 L637.5 89.5 L641.5 90.6 L645.5 92.8 L649.5 95.6 L653.5 98.2 L657.5 98.2 L661.5 96.2 L665.5 98.6 L669.5 107.4 L673.5 116.8 L677.5 130.8 L681.5 141.2 L685.5 155.6 L689.5 168.4 L693.5 173.4 L697.5 175.4 L701.5 177.5 L705.5 170.4 L709.5 170.4 L713.5 176.6 L717.5 187.6 L721.5 198.9 L725.5 207.4 L729.5 209.2 L733.5 212.5 L737.5 215.2 L741.5 218.2 L745.5 220.6 L749.5 232.5 L753.5 246.8 L757.5 262.9 L761.5 284.1 L765.5 308.8 L769.5 321.2 L773.5 333.6 L777.5 333.8 L781.5 330.8 L785.5 331.5 L789.5 321.9 L793.5 306.9 L797.5 296.8 L801.5 282.5 L805.5 282.1 L809.5 299.2 L813.5 319.8 L817.5 348.9 L821.5 381.9 L825.5 411.1 L829.5 439.6 L833.5 459.2 L837.5 466.1 L841.5 462.5 L845.5 447.8 L849.5 431.5 L853.5 418.1 L857.5 409.4 L861.5 390.6 L865.5 370.9 L869.5 353.2 L873.5 345.6 L877.5 342.2 L881.5 336.4 L885.5 336.9 L889.5 346.6 L893.5 355.2 L897.5 362.5 L901.5 371.4 L905.5 378.2 L909.5 388.4 L913.5 389.9 L917.5 391.9 L921.5 390.8 L925.5 395.2 L929.5 389.5 L933.5 375.2 L937.5 361.6 L941.5 350.9 L945.5 341.8 L949.5 331.1 L953.5 324.5 L957.5 335.2 L961.5 349.2 L965.5 377.5 L969.5 396.9 L973.5 415.5 L977.5 440.4 L981.5 462.4 L985.5 475.8 L989.5 492.6 L993.5 485.6 L997.5 488.9 L1001.5 486.9 L1005.5 481.5 L1009.5 472.4 L1013.5 460.1 L1017.5 449.2 L1021.5 441.6 L1025.5 428.6 L1029.5 431.5 L1033.5 438.1 L1037.5 438.6 L1041.5 438.8 L1045.5 434.4 L1049.5 429.8 L1053.5 421.2 L1057.5 402.4 L1061.5 380.5 L1065.5 371.1 L1069.5 371.6 L1073.5 365.6 L1077.5 363.4 L1081.5 366.2 L1085.5 362.5 L1089.5 361.5 L1093.5 352.8 L1097.5 340.8 L1101.5 334.9 L1105.5 336.4 L1109.5 330.6 L1113.5 330.6 L1117.5 323.6 L1121.5 324.9 L1125.5 323.6 L1129.5 323.2" fill="none" stroke="#0000cc" stroke-width="1" />
<rect x="5" y="149" width="1417" height="3" fill="#ff0000"/>
<rect x="5" y="244" width="1417" height="3" fill="#ff0000"/>
<rect x="5" y="304" width="1417" height="3" fill="#00ff00"/>
<rect x="5" y="425" width="1417" height="3" fill="#0000ff"/>
<rect x="5" y="512" width="1417" height="3" fill="#0000ff"/>
<rect x="1131" y="24" width="9" height="1" fill="#b8b8b8"/>
<rect x="1132" y="25" width="7" height="1" fill="#b8b8b8"/>
<rect x="1133" y="26" width="5" height="1" fill="#b8b8b8"/>
<rect x="1134" y="27" width="3" height="1" fill="#b8b8b8"/>
<rect x="1135" y="28" width="1" height="1" fill="#b8b8b8"/>
<rect x="5" y="577" width="1" height="35" fill="#c0c0c0"/>
<rect x="9" y="576" width="1" height="36" fill="#c0c0c0"/>
<rect x="13" y="574" width="1" height="38" fill="#c0c0c0"/>
<rect x="17" y="570" width="1" height="42" fill="#c0c0c0"/>
<rect x="21" y="572" width="1" height="40" fill="#c0c0c0"/>
<rect x="25" y="572" width="1" height="40" fill="#c0c0c0"/>
<rect x="29" y="573" width="1" height="39" fill="#c0c0c0"/>
<rect x="33" y="574" width="1" height="38" fill="#c0c0c0"/>
<rect x="37" y="577" width="1" height="35" fill="#c0c0c0"/>
<rect x="41" y="579" width="1" height="33" fill="#c0c0c0"/>
<rect x="45" y="579" width="1" height="33" fill="#c0c0c0"/>
<rect x="49" y="579" width="1" height="33" fill="#c0c0c0"/>
<rect x="53" y="580" width="1" height="32" fill="#c0c0c0"/>
<rect x="57" y="578" width="1" height="34" fill="#c0c0c0"/>
<rect x="61" y="579" width="1" height="33" fill="#c0c0c0"/>
<rect x="65" y="581" width="1" height="31" fill="#c0c0c0"/>
<rect x="69" y="582" width="1" height="30" fill="#c0c0c0"/>
<rect x="73" y="587" width="1" height="25" fill="#c0c0c0"/>
<rect x="77" y="592" width="1" height="20" fill="#c0c0c0"/>
<rect x="81" y="599" width="1" height="13" fill="#c0c0c0"/>
<rect x="85" y="604" width="1" height="8" fill="#c0c0c0"/>
<rect x="89" y="608" width="1" height="4" fill="#c0c0c0"/>
<rect x="93" y="611" width="1" height="1" fill="#c0c0c0"/>
<rect x="97" y="611" width="1" height="2" fill="#c0c0c0"/>
<rect x="101" y="611" width="1" height="3" fill="#c0c0c0"/>
<rect x="105" y="611" width="1" height="3" fill="#c0c0c0"/>
<rect x="109" y="611" width="1" height="3" fill="#c0c0c0"/>
<rect x="113" y="611" width="1" height="5" fill="#c0c0c0"/>
<rect x="117" y="611" width="1" height="6" fill="#c0c0c0"/>
<rect x="121" y="611" width="1" height="4" fill="#c0c0c0"/>
<rect x="125" y="611" width="1" height="4" fill="#c0c0c0"/>
<rect x="129" y="611" width="1" height="4" fill="#c0c0c0"/>
<rect x="133" y="611" width="1" height="4" fill="#c0c0c0"/>
<rect x="137" y="611" width="1" height="4" fill="#c0c0c0"/>
<rect x="141" y="611" width="1" height="6" fill="#c0c0c0"/>
<rect x="145" y="611" width="1" height="11" fill="#c0c0c0"/>
<rect x="149" y="611" width="1" height="13" fill="#c0c0c0"/>
<rect x="153" y="611" width="1" height="15" fill="#c0c0c0"/>
<rect x="157" y="611" width="1" height="15" fill="#c0c0c0"/>
<rect x="161" y="611" width="1" height="15" fill="#c0c0c0"/>
<rect x="165" y="611" width="1" height="14" fill="#c0c0c0"/>
<rect x="169" y="611" width="1" height="10" fill="#c0c0c0"/>
<rect x="173" y="611" width="1" height="7" fill="#c0c0c0"/>
<rect x="177" y="611" width="1" height="8" fill="#c0c0c0"/>
<rect x="181" y="611" width="1" height="9" fill="#c0c0c0"/>
<rect x="185" y="611" width="1" height="8" fill="#c0c0c0"/>
<rect x="189" y="611" width="1" height="12" fill="#c0c0c0"/>
<rect x="193" y="611" width="1" height="10" fill="#c0c0c0"/>
<rect x="197" y="611" width="1" height="9" fill="#c0c0c0"/>
<rect x="201" y="611" width="1" height="13" fill="#c0c0c0"/>
<rect x="205" y="611" width="1" height="15" fill="#c0c0c0"/>
<rect x="209" y="611" width="1" height="12" fill="#c0c0c0"/>
<rect x="213" y="611" width="1" height="14" fill="#c0c0c0"/>
<rect x="217" y="611" width="1" height="17" fill="#c0c0c0"/>
<rect x="221" y="611" width="1" height="19" fill="#c0c0c0"/>
<rect x="225" y="611" width="1" height="23" fill="#c0c0c0"/>
<rect x="229" y="611" width="1" height="25" fill="#c0c0c0"/>
<rect x="233" y="611" width="1" height="21" fill="#c0c0c0"/>
<rect x="237" y="611" width="1" height="20" fill="#c0c0c0"/>
<rect x="241" y="611" width="1" height="19" fill="#c0c0c0"/>
<rect x="245" y="611" width="1" height="19" fill="#c0c0c0"/>
<rect x="249" y="611" width="1" height="22" fill="#c0c0c0"/>
<rect x="253" y="611" width="1" height="23" fill="#c0c0c0"/>
<rect x="257" y="611" width="1" height="28" fill="#c0c0c0"/>
<rect x="261" y="611" width="1" height="26" fill="#c0c0c0"/>
<rect x="265" y="611" width="1" height="23" fill="#c0c0c0"/>
<rect x="269" y="611" width="1" height="21" fill="#c0c0c0"/>
<rect x="273" y="611" width="1" height="21" fill="#c0c0c0"/>
<rect x="277" y="611" width="1" height="17" fill="#c0c0c0"/>
<rect x="281" y="611" width="1" height="12" fill="#c0c0c0"/>
<rect x="285" y="611" width="1" height="6" fill="#c0c0c0"/>
<rect x="289" y="610" width="1" height="2" fill="#c0c0c0"/>
<rect x="293" y="606" width="1" height="6" fill="#c0c0c0"/>
<rect x="297" y="601" width="1" height="11" fill="#c0c0c0"/>
<rect x="301" y="598" width="1" height="14" fill="#c0c0c0"/>
<rect x="305" y="597" width="1" height="15" fill="#c0c0c0"/>
<rect x="309" y="596" width="1" height="16" fill="#c0c0c0"/>
<rect x="313" y="596" width="1" height="16" fill="#c0c0c0"/>
<rect x="317" y="597" width="1" height="15" fill="#c0c0c0"/>
<rect x="321" y="599" width="1" height="13" fill="#c0c0c0"/>
<rect x="325" y="598" width="1" height="14" fill="#c0c0c0"/>
<rect x="329" y="599" width="1" height="13" fill="#c0c0c0"/>
<rect x="333" y="599" width="1" height="13" fill="#c0c0c0"/>
<rect x="337" y="598" width="1" height="14" fill="#c0c0c0"/>
<rect x="341" y="598" width="1" height="14" fill="#c0c0c0"/>
<rect x="345" y="597" width="1" height="15" fill="#c0c0c0"/>
<rect x="349" y="594" width="1" height="18" fill="#c0c0c0"/>
<rect x="353" y="591" width="1" height="21" fill="#c0c0c0"/>
<rect x="357" y="589" width="1" height="23" fill="#c0c0c0"/>
<rect x="361" y="589" width="1" height="23" fill="#c0c0c0"/>
<rect x="365" y="590" width="1" height="22" fill="#c0c0c0"/>
<rect x="369" y="588" width="1" height="24" fill="#c0c0c0"/>
<rect x="373" y="585" width="1" height="27" fill="#c0c0c0"/>
<rect x="377" y="582" width="1" height="30" fill="#c0c0c0"/>
<rect x="381" y="582" width="1" height="30" fill="#c0c0c0"/>
<rect x="385" y="583" width="1" height="29" fill="#c0c0c0"/>
<rect x="389" y="583" width="1" height="29" fill="#c0c0c0"/>
<rect x="393" y="584" width="1" height="28" fill="#c0c0c0"/>
<rect x="397" y="588" width="1" height="24" fill="#c0c0c0"/>
<rect x="401" y="591" width="1" height="21" fill="#c0c0c0"/>
<rect x="405" y="593" width="1" height="19" fill="#c0c0c0"/>
<rect x="409" y="596" width="1" height="16" fill="#c0c0c0"/>
<rect x="413" y="598" width="1" height="14" fill="#c0c0c0"/>
<rect x="417" y="599" width="1" height="13" fill="#c0c0c0"/>
<rect x="421" y="601" width="1" height="11" fill="#c0c0c0"/>
<rect x="425" y="602" width="1" height="10" fill="#c0c0c0"/>
<rect x="429" y="605" width="1" height="7" fill="#c0c0c0"/>
<rect x="433" y="606" width="1" height="6" fill="#c0c0c0"/>
<rect x="437" y="607" width="1" height="5" fill="#c0c0c0"/>
<rect x="441" y="608" width="1" height="4" fill="#c0c0c0"/>
<rect x="445" y="605" width="1" height="7" fill="#c0c0c0"/>
<rect x="449" y="604" width="1" height="8" fill="#c0c0c0"/>
<rect x="453" y="599" width="1" height="13" fill="#c0c0c0"/>
<rect x="457" y="597" width="1" height="15" fill="#c0c0c0"/>
<rect x="461" y="595" width="1" height="17" fill="#c0c0c0"/>
<rect x="465" y="593" width="1" height="19" fill="#c0c0c0"/>
<rect x="469" y="593" width="1" height="19" fill="#c0c0c0"/>
<rect x="473" y="595" width="1" height="17" fill="#c0c0c0"/>
<rect x="477" y="597" width="1" height="15" fill="#c0c0c0"/>
<rect x="481" y="600" width="1" height="12" fill="#c0c0c0"/>
<rect x="485" y="601" width="1" height="11" fill="#c0c0c0"/>
<rect x="489" y="604" width="1" height="8" fill="#c0c0c0"/>
<rect x="493" y="607" width="1" height="5" fill="#c0c0c0"/>
<rect x="497" y="611" width="1" height="4" fill="#c0c0c0"/>
<rect x="501" y="611" width="1" height="9" fill="#c0c0c0"/>
<rect x="505" y="611" width="1" height="12" fill="#c0c0c0"/>
<rect x="509" y="611" width="1" height="14" fill="#c0c0c0"/>
<rect x="513" y="611" width="1" height="16" fill="#c0c0c0"/>
<rect x="517" y="611" width="1" height="17" fill="#c0c0c0"/>
<rect x="521" y="611" width="1" height="17" fill="#c0c0c0"/>
<rect x="525" y="611" width="1" height="17" fill="#c0c0c0"/>
<rect x="529" y="611" width="1" height="16" fill="#c0c0c0"/>
<rect x="533" y="611" width="1" height="15" fill="#c0c0c0"/>
<rect x="537" y="611" width="1" height="12" fill="#c0c0c0"/>
<rect x="541" y="611" width="1" height="10" fill="#c0c0c0"/>
<rect x="545" y="611" width="1" height="9" fill="#c0c0c0"/>
<rect x="549" y="611" width="1" height="7" fill="#c0c0c0"/>
<rect x="553" y="611" width="1" height="5" fill="#c0c0c0"/>
<rect x="557" y="611" width="1" height="3" fill="#c0c0c0"/>
<rect x="561" y="611" width="1" height="2" fill="#c0c0c0"/>
<rect x="565" y="611" width="1" height="1" fill="#c0c0c0"/>
<rect x="569" y="609" width="1" height="3" fill="#c0c0c0"/>
<rect x="573" y="607" width="1" height="5" fill="#c0c0c0"/>
<rect x="577" y="606" width="1" height="6" fill="#c0c0c0"/>
<rect x="581" y="605" width="1" height="7" fill="#c0c0c0"/>
<rect x="585" y="603" width="1" height="9" fill="#c0c0c0"/>
<rect x="589" y="600" width="1" height="12" fill="#c0c0c0"/>
<rect x="593" y="596" width="1" height="16" fill="#c0c0c0"/>
<rect x="597" y="590" width="1" height="22" fill="#c0c0c0"/>
<rect x="601" y="586" width="1" height="26" fill="#c0c0c0"/>
<rect x="605" y="583" width="1" height="29" fill="#c0c0c0"/>
<rect x="609" y="578" width="1" height="34" fill="#c0c0c0"/>
<rect x="613" y="574" width="1" height="38" fill="#c0c0c0"/>
<rect x="617" y="572" width="1" height="40" fill="#c0c0c0"/>
<rect x="621" y="571" width="1" height="41" fill="#c0c0c0"/>
<rect x="625" y="571" width="1" height="41" fill="#c0c0c0"/>
<rect x="629" y="571" width="1" height="41" fill="#c0c0c0"/>
<rect x="633" y="572" width="1" height="40" fill="#c0c0c0"/>
<rect x="637" y="574" width="1" height="38" fill="#c0c0c0"/>
<rect x="641" y="575" width="1" height="37" fill="#c0c0c0"/>
<rect x="645" y="576" width="1" height="36" fill="#c0c0c0"/>
<rect x="649" y="579" width="1" height="33" fill="#c0c0c0"/>
<rect x="653" y="581" width="1" height="31" fill="#c0c0c0"/>
<rect x="657" y="582" width="1" height="30" fill="#c0c0c0"/>
<rect x="661" y="582" width="1" height="30" fill="#c0c0c0"/>
<rect x="665" y="586" width="1" height="26" fill="#c0c0c0"/>
<rect x="669" y="590" width="1" height="22" fill="#c0c0c0"/>
<rect x="673" y="595" width="1" height="17" fill="#c0c0c0"/>
<rect x="677" y="603" width="1" height="9" fill="#c0c0c0"/>
<rect x="681" y="606" width="1" height="6" fill="#c0c0c0"/>
<rect x="685" y="610" width="1" height="2" fill="#c0c0c0"/>
<rect x="689" y="611" width="1" height="1" fill="#c0c0c0"/>
<rect x="693" y="611" width="1" height="2" fill="#c0c0c0"/>
<rect x="697" y="611" width="1" height="2" fill="#c0c0c0"/>
<rect x="701" y="611" width="1" height="4" fill="#c0c0c0"/>
<rect x="705" y="611" width="1" height="4" fill="#c0c0c0"/>
<rect x="709" y="611" width="1" height="5" fill="#c0c0c0"/>
<rect x="713" y="611" width="1" height="9" fill="#c0c0c0"/>
<rect x="717" y="611" width="1" height="13" fill="#c0c0c0"/>
<rect x="721" y="611" width="1" height="16" fill="#c0c0c0"/>
<rect x="725" y="611" width="1" height="17" fill="#c0c0c0"/>
<rect x="729" y="611" width="1" height="16" fill="#c0c0c0"/>
<rect x="733" y="611" width="1" height="14" fill="#c0c0c0"/>
<rect x="737" y="611" width="1" height="13" fill="#c0c0c0"/>
<rect x="741" y="611" width="1" height="16" fill="#c0c0c0"/>
<rect x="745" y="611" width="1" height="19" fill="#c0c0c0"/>
<rect x="749" y="611" width="1" height="25" fill="#c0c0c0"/>
<rect x="753" y="611" width="1" height="29" fill="#c0c0c0"/>
<rect x="757" y="611" width="1" height="31" fill="#c0c0c0"/>
<rect x="761" y="611" width="1" height="34" fill="#c0c0c0"/>
<rect x="765" y="611" width="1" height="39" fill="#c0c0c0"/>
<rect x="769" y="611" width="1" height="40" fill="#c0c0c0"/>
<rect x="773" y="611" width="1" height="41" fill="#c0c0c0"/>
<rect x="777" y="611" width="1" height="39" fill="#c0c0c0"/>
<rect x="781" y="611" width="1" height="36" fill="#c0c0c0"/>
<rect x="785" y="611" width="1" height="34" fill="#c0c0c0"/>
<rect x="789" y="611" width="1" height="29" fill="#c0c0c0"/>
<rect x="793" y="611" width="1" height="25" fill="#c0c0c0"/>
<rect x="797" y="611" width="1" height="22" fill="#c0c0c0"/>
<rect x="801" y="611" width="1" height="17" fill="#c0c0c0"/>
<rect x="805" y="611" width="1" height="18" fill="#c0c0c0"/>
<rect x="809" y="611" width="1" height="26" fill="#c0c0c0"/>
<rect x="813" y="611" width="1" height="34" fill="#c0c0c0"/>
<rect x="817" y="611" width="1" height="41" fill="#c0c0c0"/>
<rect x="821" y="611" width="1" height="47" fill="#c0c0c0"/>
<rect x="825" y="611" width="1" height="51" fill="#c0c0c0"/>
<rect x="829" y="611" width="1" height="51" fill="#c0c0c0"/>
<rect x="833" y="611" width="1" height="51" fill="#c0c0c0"/>
<rect x="837" y="611" width="1" height="51" fill="#c0c0c0"/>
<rect x="841" y="611" width="1" height="48" fill="#c0c0c0"/>
<rect x="845" y="611" width="1" height="41" fill="#c0c0c0"/>
<rect x="849" y="611" width="1" height="36" fill="#c0c0c0"/>
<rect x="853" y="611" width="1" height="32" fill="#c0c0c0"/>
<rect x="857" y="611" width="1" height="29" fill="#c0c0c0"/>
<rect x="861" y="611" width="1" height="22" fill="#c0c0c0"/>
<rect x="865" y="611" width="1" height="16" fill="#c0c0c0"/>
<rect x="869" y="611" width="1" height="10" fill="#c0c0c0"/>
<rect x="873" y="611" width="1" height="6" fill="#c0c0c0"/>
<rect x="877" y="611" width="1" height="5" fill="#c0c0c0"/>
<rect x="881" y="611" width="1" height="3" fill="#c0c0c0"/>
<rect x="885" y="611" width="1" height="6" fill="#c0c0c0"/>
<rect x="889" y="611" width="1" height="7" fill="#c0c0c0"/>
<rect x="893" y="611" width="1" height="8" fill="#c0c0c0"/>
<rect x="897" y="611" width="1" height="7" fill="#c0c0c0"/>
<rect x="901" y="611" width="1" height="7" fill="#c0c0c0"/>
<rect x="905" y="611" width="1" height="9" fill="#c0c0c0"/>
<rect x="909" y="611" width="1" height="11" fill="#c0c0c0"/>
<rect x="913" y="611" width="1" height="11" fill="#c0c0c0"/>
<rect x="917" y="611" width="1" height="12" fill="#c0c0c0"/>
<rect x="921" y="611" width="1" height="11" fill="#c0c0c0"/>
<rect x="925" y="611" width="1" height="10" fill="#c0c0c0"/>
<rect x="929" y="611" width="1" height="6" fill="#c0c0c0"/>
<rect x="933" y="611" width="1" height="1" fill="#c0c0c0"/>
<rect x="937" y="607" width="1" height="5" fill="#c0c0c0"/>
<rect x="941" y="605" width="1" height="7" fill="#c0c0c0"/>
<rect x="945" y="605" width="1" height="7" fill="#c0c0c0"/>
<rect x="949" y="602" width="1" height="10" fill="#c0c0c0"/>
<rect x="953" y="603" width="1" height="9" fill="#c0c0c0"/>
<rect x="957" y="608" width="1" height="4" fill="#c0c0c0"/>
<rect x="961" y="611" width="1" height="1" fill="#c0c0c0"/>
<rect x="965" y="611" width="1" height="11" fill="#c0c0c0"/>
<rect x="969" y="611" width="1" height="16" fill="#c0c0c0"/>
<rect x="973" y="611" width="1" height="20" fill="#c0c0c0"/>
<rect x="977" y="611" width="1" height="23" fill="#c0c0c0"/>
<rect x="981" y="611" width="1" height="26" fill="#c0c0c0"/>
<rect x="985" y="611" width="1" height="29" fill="#c0c0c0"/>
<rect x="989" y="611" width="1" height="33" fill="#c0c0c0"/>
<rect x="993" y="611" width="1" height="31" fill="#c0c0c0"/>
<rect x="997" y="611" width="1" height="31" fill="#c0c0c0"/>
<rect x="1001" y="611" width="1" height="28" fill="#c0c0c0"/>
<rect x="1005" y="611" width="1" height="25" fill="#c0c0c0"/>
<rect x="1009" y="611" width="1" height="21" fill="#c0c0c0"/>
<rect x="1013" y="611" width="1" height="17" fill="#c0c0c0"/>
<rect x="1017" y="611" width="1" height="16" fill="#c0c0c0"/>
<rect x="1021" y="611" width="1" height="12" fill="#c0c0c0"/>
<rect x="1025" y="611" width="1" height="8" fill="#c0c0c0"/>
<rect x="1029" y="611" width="1" height="11" fill="#c0c0c0"/>
<rect x="1033" y="611" width="1" height="13" fill="#c0c0c0"/>
<rect x="1037" y="611" width="1" height="11" fill="#c0c0c0"/>
<rect x="1041" y="611" width="1" height="9" fill="#c0c0c0"/>
<rect x="1045" y="611" width="1" height="6" fill="#c0c0c0"/>
<rect x="1049" y="611" width="1" height="2" fill="#c0c0c0"/>
<rect x="1053" y="605" width="1" height="7" fill="#c0c0c0"/>
<rect x="1057" y="601" width="1" height="11" fill="#c0c0c0"/>
<rect x="1061" y="597" width="1" height="15" fill="#c0c0c0"/>
<rect x="1065" y="597" width="1" height="15" fill="#c0c0c0"/>
<rect x="1069" y="600" width="1" height="12" fill="#c0c0c0"/>
<rect x="1073" y="599" width="1" height="13" fill="#c0c0c0"/>
<rect x="1077" y="598" width="1" height="14" fill="#c0c0c0"/>
<rect x="1081" y="597" width="1" height="15" fill="#c0c0c0"/>
<rect x="1085" y="594" width="1" height="18" fill="#c0c0c0"/>
<rect x="1089" y="592" width="1" height="20" fill="#c0c0c0"/>
<rect x="1093" y="590" width="1" height="22" fill="#c0c0c0"/>
<rect x="1097" y="590" width="1" height="22" fill="#c0c0c0"/>
<rect x="1101" y="590" width="1" height="22" fill="#c0c0c0"/>
<rect x="1105" y="593" width="1" height="19" fill="#c0c0c0"/>
<rect x="1109" y="592" width="1" height="20" fill="#c0c0c0"/>
<rect x="1113" y="591" width="1" height="21" fill="#c0c0c0"/>
<rect x="1117" y="588" width="1" height="24" fill="#c0c0c0"/>
<rect x="1121" y="589" width="1" height="23" fill="#c0c0c0"/>
<rect x="1125" y="590" width="1" height="22" fill="#c0c0c0"/>
<rect x="1129" y="592" width="1" height="20" fill="#c0c0c0"/>
<path d="M5.5 575.9 L9.5 576.0 L13.5 575.9 L17.5 575.5 L21.5 575.1 L25.5 574.7 L29.5 574.4 L33.5 574.3 L37.5 574.4 L41.5 574.6 L45.5 574.9 L49.5 575.5 L53.5 576.5 L57.5 577.2 L61.5 578.1 L65.5 578.9 L69.5 579.7 L73.5 580.8 L77.5 582.2 L81.5 584.5 L85.5 587.2 L89.5 590.4 L93.5 594.2 L97.5 597.8 L101.5 601.4 L105.5 604.9 L109.5 607.7 L113.5 610.4 L117.5 612.3 L121.5 613.4 L125.5 614.0 L129.5 614.3 L133.5 614.5 L137.5 614.6 L141.5 615.0 L145.5 615.9 L149.5 616.7 L153.5 617.8 L157.5 618.9 L161.5 620.1 L165.5 621.2 L169.5 621.9 L173.5 622.3 L177.5 622.5 L181.5 622.4 L185.5 621.8 L189.5 621.4 L193.5 620.9 L197.5 620.3 L201.5 620.2 L205.5 620.8 L209.5 621.3 L213.5 622.0 L217.5 622.9 L221.5 624.1 L225.5 625.3 L229.5 626.9 L233.5 628.2 L237.5 629.0 L241.5 629.5 L245.5 630.2 L249.5 631.0 L253.5 631.7 L257.5 632.7 L261.5 633.0 L265.5 632.9 L269.5 632.8 L273.5 632.9 L277.5 632.7 L281.5 632.0 L285.5 630.2 L289.5 627.7 L293.5 624.1 L297.5 620.3 L301.5 616.3 L305.5 612.5 L309.5 608.6 L313.5 605.2 L317.5 602.4 L321.5 600.5 L325.5 599.2 L329.5 598.4 L333.5 598.1 L337.5 598.2 L341.5 598.4 L345.5 598.5 L349.5 598.2 L353.5 597.6 L357.5 596.5 L361.5 595.5 L365.5 594.5 L369.5 593.3 L373.5 591.8 L377.5 590.0 L381.5 588.4 L385.5 587.1 L389.5 586.2 L393.5 585.7 L397.5 585.5 L401.5 585.6 L405.5 586.2 L409.5 587.3 L413.5 589.1 L417.5 591.0 L421.5 593.1 L425.5 595.2 L429.5 597.5 L433.5 599.5 L437.5 601.3 L441.5 602.9 L445.5 604.0 L449.5 604.7 L453.5 604.6 L457.5 604.1 L461.5 603.3 L465.5 601.9 L469.5 600.4 L473.5 599.1 L477.5 597.9 L481.5 597.2 L485.5 597.0 L489.5 597.6 L493.5 598.8 L497.5 600.9 L501.5 603.9 L505.5 607.2 L509.5 610.3 L513.5 613.6 L517.5 616.6 L521.5 619.5 L525.5 622.0 L529.5 624.1 L533.5 625.2 L537.5 625.5 L541.5 625.3 L545.5 624.8 L549.5 623.8 L553.5 622.4 L557.5 620.9 L561.5 619.3 L565.5 617.8 L569.5 616.0 L573.5 614.4 L577.5 612.7 L581.5 611.1 L585.5 609.5 L589.5 607.8 L593.5 605.9 L597.5 603.3 L601.5 600.5 L605.5 597.6 L609.5 594.3 L613.5 590.8 L617.5 587.2 L621.5 583.7 L625.5 580.5 L629.5 577.7 L633.5 575.7 L637.5 574.3 L641.5 573.4 L645.5 573.3 L649.5 573.8 L653.5 574.9 L657.5 576.0 L661.5 577.3 L665.5 578.9 L669.5 581.0 L673.5 583.4 L677.5 586.5 L681.5 589.8 L685.5 593.2 L689.5 596.6 L693.5 599.9 L697.5 603.2 L701.5 606.4 L705.5 609.0 L709.5 611.1 L713.5 613.0 L717.5 614.9 L721.5 616.7 L725.5 618.5 L729.5 620.1 L733.5 621.4 L737.5 622.4 L741.5 623.7 L745.5 625.3 L749.5 627.0 L753.5 628.7 L757.5 630.4 L761.5 632.3 L765.5 634.9 L769.5 637.8 L773.5 640.9 L777.5 643.5 L781.5 645.5 L785.5 646.5 L789.5 646.5 L793.5 645.9 L797.5 644.4 L801.5 642.1 L805.5 639.7 L809.5 638.0 L813.5 637.4 L817.5 637.9 L821.5 639.3 L825.5 641.7 L829.5 644.6 L833.5 647.8 L837.5 651.6 L841.5 655.0 L845.5 656.7 L849.5 656.9 L853.5 655.9 L857.5 653.9 L861.5 650.6 L865.5 646.8 L869.5 642.2 L873.5 637.2 L877.5 632.3 L881.5 628.1 L885.5 624.7 L889.5 622.0 L893.5 619.7 L897.5 618.1 L901.5 617.1 L905.5 617.0 L909.5 617.5 L913.5 618.2 L917.5 619.2 L921.5 619.8 L925.5 620.2 L929.5 619.9 L933.5 619.2 L937.5 618.2 L941.5 616.6 L945.5 614.9 L949.5 612.8 L953.5 610.6 L957.5 609.2 L961.5 608.1 L965.5 608.7 L969.5 610.3 L973.5 612.8 L977.5 615.9 L981.5 619.4 L985.5 623.5 L989.5 627.9 L993.5 631.6 L997.5 634.8 L1001.5 636.7 L1005.5 637.8 L1009.5 638.0 L1013.5 637.3 L1017.5 636.2 L1021.5 634.3 L1025.5 631.6 L1029.5 629.4 L1033.5 627.5 L1037.5 625.6 L1041.5 623.8 L1045.5 622.1 L1049.5 620.3 L1053.5 618.0 L1057.5 615.7 L1061.5 613.4 L1065.5 610.7 L1069.5 608.1 L1073.5 605.7 L1077.5 603.4 L1081.5 601.2 L1085.5 599.3 L1089.5 597.8 L1093.5 596.5 L1097.5 595.7 L1101.5 594.9 L1105.5 594.1 L1109.5 593.3 L1113.5 592.5 L1117.5 591.6 L1121.5 591.0 L1125.5 590.9 L1129.5 591.1" fill="none" stroke="#ff0000" stroke-width="1" stroke-dasharray="3 3"/>
<path d="M6 709.5 H1420" stroke="#c0c0c0" stroke-width="1" stroke-dasharray="3 3" fill="none"/>
<path d="M6 760.5 H1420" stroke="#c0c0c0" stroke-width="1" stroke-dasharray="3 3" fill="none"/>
<path d="M5.5 717.5 L9.5 711.3 L13.5 706.9 L17.5 703.6 L21.5 719.9 L25.5 716.0 L29.5 721.7 L33.5 718.8 L37.5 725.8 L41.5 724.7 L45.5 718.8 L49.5 719.8 L53.5 718.8 L57.5 713.0 L61.5 723.6 L65.5 723.1 L69.5 721.8 L73.5 736.9 L77.5 737.5 L81.5 747.1 L85.5 743.8 L89.5 744.5 L93.5 743.5 L97.5 737.6 L101.5 737.6 L105.5 735.5 L109.5 735.0 L113.5 745.7 L117.5 739.2 L121.5 731.9 L125.5 734.5 L129.5 735.7 L133.5 737.0 L137.5 737.5 L141.5 745.8 L145.5 752.5 L149.5 750.9 L153.5 751.3 L157.5 741.1 L161.5 742.8 L165.5 738.8 L169.5 729.5 L173.5 730.1 L177.5 741.6 L181.5 742.1 L185.5 737.5 L189.5 750.4 L193.5 734.3 L197.5 736.5 L201.5 747.6 L205.5 746.7 L209.5 733.2 L213.5 743.2 L217.5 744.9 L221.5 747.3 L225.5 750.2 L229.5 747.7 L233.5 736.2 L237.5 739.1 L241.5 740.7 L245.5 741.2 L249.5 749.4 L253.5 746.3 L257.5 754.3 L261.5 738.4 L265.5 737.9 L269.5 738.2 L273.5 741.9 L277.5 733.4 L281.5 729.7 L285.5 725.1 L289.5 723.8 L293.5 723.5 L297.5 721.1 L301.5 722.0 L305.5 725.8 L309.5 724.9 L313.5 730.4 L317.5 731.1 L321.5 732.9 L325.5 727.1 L329.5 729.6 L333.5 728.5 L337.5 726.5 L341.5 726.1 L345.5 721.2 L349.5 717.9 L353.5 713.8 L357.5 713.6 L361.5 721.8 L365.5 722.8 L369.5 714.5 L373.5 711.5 L377.5 707.6 L381.5 719.5 L385.5 719.8 L389.5 720.2 L393.5 720.5 L397.5 731.5 L401.5 733.0 L405.5 730.2 L409.5 733.7 L413.5 734.0 L417.5 732.7 L421.5 734.5 L425.5 731.6 L429.5 741.9 L433.5 734.5 L437.5 736.8 L441.5 735.1 L445.5 721.8 L449.5 723.0 L453.5 710.8 L457.5 721.5 L461.5 719.9 L465.5 716.2 L469.5 724.1 L473.5 733.8 L477.5 732.6 L481.5 735.9 L485.5 735.4 L489.5 738.4 L493.5 743.9 L497.5 756.5 L501.5 753.8 L505.5 747.5 L509.5 748.1 L513.5 751.4 L517.5 746.1 L521.5 744.6 L525.5 743.9 L529.5 740.7 L533.5 742.3 L537.5 731.6 L541.5 735.1 L545.5 737.4 L549.5 730.2 L553.5 730.8 L557.5 729.6 L561.5 733.1 L565.5 731.1 L569.5 724.2 L573.5 723.4 L577.5 723.4 L581.5 724.3 L585.5 720.7 L589.5 711.7 L593.5 706.5 L597.5 700.1 L601.5 705.0 L605.5 703.2 L609.5 697.6 L613.5 697.4 L617.5 700.2 L621.5 703.5 L625.5 702.9 L629.5 702.5 L633.5 706.3 L637.5 713.4 L641.5 708.9 L645.5 715.1 L649.5 720.5 L653.5 718.9 L657.5 713.7 L661.5 712.0 L665.5 730.4 L669.5 737.9 L673.5 742.8 L677.5 752.5 L681.5 743.0 L685.5 744.7 L689.5 739.2 L693.5 736.7 L697.5 737.5 L701.5 742.5 L705.5 736.1 L709.5 741.1 L713.5 752.0 L717.5 754.4 L721.5 752.1 L725.5 746.7 L729.5 739.0 L733.5 736.1 L737.5 739.8 L741.5 750.8 L745.5 752.5 L749.5 761.0 L753.5 761.0 L757.5 756.6 L761.5 760.1 L765.5 765.1 L769.5 755.6 L773.5 757.0 L777.5 749.6 L781.5 744.1 L785.5 746.2 L789.5 735.2 L793.5 735.6 L797.5 736.1 L801.5 731.7 L805.5 745.7 L809.5 758.6 L813.5 762.1 L817.5 763.2 L821.5 765.7 L825.5 759.8 L829.5 754.5 L833.5 755.4 L837.5 756.8 L841.5 748.2 L845.5 735.7 L849.5 738.6 L853.5 737.6 L857.5 739.4 L861.5 728.4 L865.5 729.4 L869.5 725.7 L873.5 726.8 L877.5 735.9 L881.5 732.0 L885.5 741.3 L889.5 741.5 L893.5 740.8 L897.5 734.5 L901.5 737.5 L905.5 743.2 L909.5 743.4 L913.5 742.2 L917.5 743.0 L921.5 736.9 L925.5 738.4 L929.5 726.6 L933.5 721.9 L937.5 723.5 L941.5 727.3 L945.5 730.9 L949.5 723.9 L953.5 732.3 L957.5 744.3 L961.5 743.5 L965.5 757.3 L969.5 748.1 L973.5 749.1 L977.5 750.1 L981.5 752.2 L985.5 752.9 L989.5 755.5 L993.5 742.3 L997.5 745.9 L1001.5 740.5 L1005.5 737.6 L1009.5 735.7 L1013.5 732.8 L1017.5 738.3 L1021.5 731.4 L1025.5 729.2 L1029.5 743.1 L1033.5 744.5 L1037.5 735.4 L1041.5 732.3 L1045.5 732.0 L1049.5 725.9 L1053.5 720.4 L1057.5 722.6 L1061.5 721.0 L1065.5 728.2 L1069.5 737.1 L1073.5 729.6 L1077.5 727.7 L1081.5 727.0 L1085.5 721.9 L1089.5 723.6 L1093.5 720.8 L1097.5 726.8 L1101.5 726.0 L1105.5 733.7 L1109.5 724.8 L1113.5 725.8 L1117.5 719.9 L1121.5 727.7 L1125.5 729.6 L1129.5 729.8" fill="none" stroke="#1e90ff" stroke-width="1" />
<rect x="8" y="30" width="7" height="1" fill="#000"/>
<rect x="9" y="31" width="5" height="1" fill="#000"/>
<rect x="10" y="32" width="3" height="1" fill="#000"/>
<rect x="11" y="33" width="1" height="1" fill="#000"/>
<text x="20" y="35" font-size="10" fill="#000" stroke="#000" stroke-width="0.25" textLength="67.5" lengthAdjust="spacingAndGlyphs" >USDCHF-,Daily</text>
<text x="94.5" y="35" font-size="10" fill="#000" stroke="#000" stroke-width="0.25" textLength="32.2" lengthAdjust="spacingAndGlyphs" >0.99132</text>
<text x="130.5" y="35" font-size="10" fill="#000" stroke="#000" stroke-width="0.25" textLength="32.2" lengthAdjust="spacingAndGlyphs" >0.99154</text>
<text x="166.5" y="35" font-size="10" fill="#000" stroke="#000" stroke-width="0.25" textLength="32.2" lengthAdjust="spacingAndGlyphs" >0.99105</text>
<text x="202.5" y="35" font-size="10" fill="#000" stroke="#000" stroke-width="0.25" textLength="32.2" lengthAdjust="spacingAndGlyphs" >0.99133</text>
<text x="9.5" y="577" font-size="10" fill="#000" stroke="#000" stroke-width="0.25" textLength="147" lengthAdjust="spacingAndGlyphs" >MACD(12,26,9) 0.002614 0.002771</text>
<text x="9.5" y="682" font-size="10" fill="#000" stroke="#000" stroke-width="0.25" textLength="67" lengthAdjust="spacingAndGlyphs" >RSI(14) 53.9981</text>
<rect x="1421" y="31" width="2" height="1" fill="#000"/>
<text x="1426.5" y="35" font-size="10" fill="#000" stroke="#000" stroke-width="0.25" textLength="32.2" lengthAdjust="spacingAndGlyphs" >1.02580</text>
<rect x="1421" y="64" width="2" height="1" fill="#000"/>
<text x="1426.5" y="68" font-size="10" fill="#000" stroke="#000" stroke-width="0.25" textLength="32.2" lengthAdjust="spacingAndGlyphs" >1.02200</text>
<rect x="1421" y="97" width="2" height="1" fill="#000"/>
<text x="1426.5" y="101" font-size="10" fill="#000" stroke="#000" stroke-width="0.25" textLength="32.2" lengthAdjust="spacingAndGlyphs" >1.01820</text>
<rect x="1421" y="130" width="2" height="1" fill="#000"/>
<text x="1426.5" y="134" font-size="10" fill="#000" stroke="#000" stroke-width="0.25" textLength="32.2" lengthAdjust="spacingAndGlyphs" >1.01440</text>
<rect x="1421" y="163" width="2" height="1" fill="#000"/>
<text x="1426.5" y="167" font-size="10" fill="#000" stroke="#000" stroke-width="0.25" textLength="32.2" lengthAdjust="spacingAndGlyphs" >1.01050</text>
<rect x="1421" y="196" width="2" height="1" fill="#000"/>
<text x="1426.5" y="200" font-size="10" fill="#000" stroke="#000" stroke-width="0.25" textLength="32.2" lengthAdjust="spacingAndGlyphs" >1.00670</text>
<rect x="1421" y="229" width="2" height="1" fill="#000"/>
<text x="1426.5" y="233" font-size="10" fill="#000" stroke="#000" stroke-width="0.25" textLength="32.2" lengthAdjust="spacingAndGlyphs" >1.00290</text>
<rect x="1421" y="262" width="2" height="1" fill="#000"/>
<text x="1426.5" y="266" font-size="10" fill="#000" stroke="#000" stroke-width="0.25" textLength="32.2" lengthAdjust="spacingAndGlyphs" >0.99910</text>
<rect x="1421" y="295" width="2" height="1" fill="#000"/>
<text x="1426.5" y="299" font-size="10" fill="#000" stroke="#000" stroke-width="0.25" textLength="32.2" lengthAdjust="spacingAndGlyphs" >0.99530</text>
<rect x="1421" y="361" width="2" height="1" fill="#000"/>
<text x="1426.5" y="365" font-size="10" fill="#000" stroke="#000" stroke-width="0.25" textLength="32.2" lengthAdjust="spacingAndGlyphs" >0.98760</text>
<rect x="1421" y="394" width="2" height="1" fill="#000"/>
<text x="1426.5" y="398" font-size="10" fill="#000" stroke="#000" stroke-width="0.25" textLength="32.2" lengthAdjust="spacingAndGlyphs" >0.98380</text>
<rect x="1421" y="460" width="2" height="1" fill="#000"/>
<text x="1426.5" y="464" font-size="10" fill="#000" stroke="#000" stroke-width="0.25" textLength="32.2" lengthAdjust="spacingAndGlyphs" >0.97610</text>
<rect x="1421" y="493" width="2" height="1" fill="#000"/>
<text x="1426.5" y="497" font-size="10" fill="#000" stroke="#000" stroke-width="0.25" textLength="32.2" lengthAdjust="spacingAndGlyphs" >0.97230</text>
<rect x="1421" y="526" width="2" height="1" fill="#000"/>
<text x="1426.5" y="530" font-size="10" fill="#000" stroke="#000" stroke-width="0.25" textLength="32.2" lengthAdjust="spacingAndGlyphs" >0.96850</text>
<rect x="1421" y="559" width="2" height="1" fill="#000"/>
<text x="1426.5" y="563" font-size="10" fill="#000" stroke="#000" stroke-width="0.25" textLength="32.2" lengthAdjust="spacingAndGlyphs" >0.96470</text>
<rect x="1421" y="566" width="1" height="1" fill="#000"/>
<rect x="1421" y="611" width="1" height="1" fill="#000"/>
<rect x="1421" y="666" width="1" height="1" fill="#000"/>
<text x="1424" y="575" font-size="10" fill="#000" stroke="#000" stroke-width="0.25" textLength="37.5" lengthAdjust="spacingAndGlyphs" >0.006286</text>
<text x="1424" y="615" font-size="10" fill="#000" stroke="#000" stroke-width="0.25" textLength="18" lengthAdjust="spacingAndGlyphs" >0.00</text>
<text x="1423.8" y="664" font-size="10" fill="#000" stroke="#000" stroke-width="0.25" textLength="36" lengthAdjust="spacingAndGlyphs" >-0.00762</text>
<rect x="1421" y="671" width="1" height="1" fill="#000"/>
<rect x="1421" y="798" width="1" height="1" fill="#000"/>
<text x="1424.3" y="680" font-size="10" fill="#000" stroke="#000" stroke-width="0.25" textLength="14.6" lengthAdjust="spacingAndGlyphs" >100</text>
<text x="1423.3" y="713" font-size="10" fill="#000" stroke="#000" stroke-width="0.25" textLength="9.8" lengthAdjust="spacingAndGlyphs" >70</text>
<text x="1423.3" y="764" font-size="10" fill="#000" stroke="#000" stroke-width="0.25" textLength="9.8" lengthAdjust="spacingAndGlyphs" >30</text>
<text x="1424.3" y="796" font-size="10" fill="#000" stroke="#000" stroke-width="0.25" textLength="4.8" lengthAdjust="spacingAndGlyphs" >0</text>
<rect x="1422" y="144" width="40" height="11" fill="#ff0000"/>
<text x="1426.5" y="153" font-size="10" fill="#fff" stroke="#fff" stroke-width="0.25" textLength="32.2" lengthAdjust="spacingAndGlyphs" >1.01205</text>
<rect x="1422" y="239" width="40" height="11" fill="#ff0000"/>
<text x="1426.5" y="248" font-size="10" fill="#fff" stroke="#fff" stroke-width="0.25" textLength="32.2" lengthAdjust="spacingAndGlyphs" >1.00106</text>
<rect x="1422" y="299" width="40" height="11" fill="#00ff00"/>
<text x="1426.5" y="308" font-size="10" fill="#fff" stroke="#fff" stroke-width="0.25" textLength="32.2" lengthAdjust="spacingAndGlyphs" >0.99406</text>
<rect x="1422" y="324" width="40" height="11" fill="#000000"/>
<text x="1426.5" y="333" font-size="10" fill="#fff" stroke="#fff" stroke-width="0.25" textLength="32.2" lengthAdjust="spacingAndGlyphs" >0.99133</text>
<rect x="1421" y="329" width="1" height="1" fill="#000"/>
<rect x="1422" y="420" width="40" height="11" fill="#0000ff"/>
<text x="1426.5" y="429" font-size="10" fill="#fff" stroke="#fff" stroke-width="0.25" textLength="32.2" lengthAdjust="spacingAndGlyphs" >0.98004</text>
<rect x="1422" y="507" width="40" height="11" fill="#0000ff"/>
<text x="1426.5" y="516" font-size="10" fill="#fff" stroke="#fff" stroke-width="0.25" textLength="32.2" lengthAdjust="spacingAndGlyphs" >0.97001</text>
<rect x="5" y="800" width="1" height="3" fill="#000"/>
<text x="4.5" y="812" font-size="10" fill="#000" stroke="#000" stroke-width="0.25" textLength="50.3" lengthAdjust="spacingAndGlyphs" >28 Oct 2018</text>
<rect x="69" y="800" width="1" height="3" fill="#000"/>
<text x="68.5" y="812" font-size="10" fill="#000" stroke="#000" stroke-width="0.25" textLength="52.8" lengthAdjust="spacingAndGlyphs" >15 Nov 2018</text>
<rect x="133" y="800" width="1" height="3" fill="#000"/>
<text x="132.5" y="812" font-size="10" fill="#000" stroke="#000" stroke-width="0.25" textLength="46.1" lengthAdjust="spacingAndGlyphs" >4 Dec 2018</text>
<rect x="197" y="800" width="1" height="3" fill="#000"/>
<text x="196.5" y="812" font-size="10" fill="#000" stroke="#000" stroke-width="0.25" textLength="51" lengthAdjust="spacingAndGlyphs" >23 Dec 2018</text>
<rect x="261" y="800" width="1" height="3" fill="#000"/>
<text x="260.5" y="812" font-size="10" fill="#000" stroke="#000" stroke-width="0.25" textLength="48.6" lengthAdjust="spacingAndGlyphs" >10 Jan 2019</text>
<rect x="325" y="800" width="1" height="3" fill="#000"/>
<text x="324.5" y="812" font-size="10" fill="#000" stroke="#000" stroke-width="0.25" textLength="48.9" lengthAdjust="spacingAndGlyphs" >29 Jan 2019</text>
<rect x="389" y="800" width="1" height="3" fill="#000"/>
<text x="388.5" y="812" font-size="10" fill="#000" stroke="#000" stroke-width="0.25" textLength="50.3" lengthAdjust="spacingAndGlyphs" >17 Feb 2019</text>
<rect x="453" y="800" width="1" height="3" fill="#000"/>
<text x="452.5" y="812" font-size="10" fill="#000" stroke="#000" stroke-width="0.25" textLength="45.5" lengthAdjust="spacingAndGlyphs" >7 Mar 2019</text>
<rect x="517" y="800" width="1" height="3" fill="#000"/>
<text x="516.5" y="812" font-size="10" fill="#000" stroke="#000" stroke-width="0.25" textLength="50.6" lengthAdjust="spacingAndGlyphs" >26 Mar 2019</text>
<rect x="581" y="800" width="1" height="3" fill="#000"/>
<text x="580.5" y="812" font-size="10" fill="#000" stroke="#000" stroke-width="0.25" textLength="49.6" lengthAdjust="spacingAndGlyphs" >14 Apr 2019</text>
<rect x="645" y="800" width="1" height="3" fill="#000"/>
<text x="644.5" y="812" font-size="10" fill="#000" stroke="#000" stroke-width="0.25" textLength="47.9" lengthAdjust="spacingAndGlyphs" >3 May 2019</text>
<rect x="709" y="800" width="1" height="3" fill="#000"/>
<text x="708.5" y="812" font-size="10" fill="#000" stroke="#000" stroke-width="0.25" textLength="53.8" lengthAdjust="spacingAndGlyphs" >22 May 2019</text>
<rect x="773" y="800" width="1" height="3" fill="#000"/>
<text x="772.5" y="812" font-size="10" fill="#000" stroke="#000" stroke-width="0.25" textLength="48.9" lengthAdjust="spacingAndGlyphs" >10 Jun 2019</text>
<rect x="837" y="800" width="1" height="3" fill="#000"/>
<text x="836.5" y="812" font-size="10" fill="#000" stroke="#000" stroke-width="0.25" textLength="49.3" lengthAdjust="spacingAndGlyphs" >28 Jun 2019</text>
<rect x="901" y="800" width="1" height="3" fill="#000"/>
<text x="900.5" y="812" font-size="10" fill="#000" stroke="#000" stroke-width="0.25" textLength="45.9" lengthAdjust="spacingAndGlyphs" >17 Jul 2019</text>
<rect x="965" y="800" width="1" height="3" fill="#000"/>
<text x="964.5" y="812" font-size="10" fill="#000" stroke="#000" stroke-width="0.25" textLength="46.7" lengthAdjust="spacingAndGlyphs" >5 Aug 2019</text>
<rect x="1029" y="800" width="1" height="3" fill="#000"/>
<text x="1028.5" y="812" font-size="10" fill="#000" stroke="#000" stroke-width="0.25" textLength="51.9" lengthAdjust="spacingAndGlyphs" >23 Aug 2019</text>
<rect x="1093" y="800" width="1" height="3" fill="#000"/>
<text x="1092.5" y="812" font-size="10" fill="#000" stroke="#000" stroke-width="0.25" textLength="50.4" lengthAdjust="spacingAndGlyphs" >11 Sep 2019</text>
<rect x="0" y="820" width="1462" height="1" fill="#e6e6e6"/>
<rect x="0" y="823" width="1462" height="1" fill="#ffffff"/>
<rect x="0" y="824" width="1462" height="17" fill="#f0f0f0"/>
<rect x="0" y="822" width="223" height="1" fill="#000"/>
<rect x="329" y="822" width="1133" height="1" fill="#000"/>
<rect x="0" y="823" width="2" height="18" fill="#a0a0a0"/>
<rect x="222" y="822" width="108" height="19" fill="#ffffff"/>
<rect x="222" y="822" width="1" height="19" fill="#000"/>
<rect x="329" y="822" width="1" height="19" fill="#000"/>
<rect x="222" y="840" width="108" height="1" fill="#000"/>
<text x="17" y="836.7" font-size="12.5" fill="#6a6a6a" stroke="#6a6a6a" stroke-width="0" textLength="85" lengthAdjust="spacingAndGlyphs" >EURUSD-,Daily</text>
<text x="124" y="836.7" font-size="12.5" fill="#6a6a6a" stroke="#6a6a6a" stroke-width="0" textLength="87" lengthAdjust="spacingAndGlyphs" >AUDUSD-,Daily</text>
<text x="234.2" y="836.7" font-size="12.5" fill="#000" stroke="#000" stroke-width="0" textLength="83.8" lengthAdjust="spacingAndGlyphs" >USDCHF-,Daily</text>
<text x="341.2" y="836.7" font-size="12.5" fill="#6a6a6a" stroke="#6a6a6a" stroke-width="0" textLength="85.5" lengthAdjust="spacingAndGlyphs" >USDCAD-,Daily</text>
<text x="450.7" y="836.7" font-size="12.5" fill="#6a6a6a" stroke="#6a6a6a" stroke-width="0" textLength="87.2" lengthAdjust="spacingAndGlyphs" >USDCNH-,Daily</text>
<text x="561.5" y="836.7" font-size="12.5" fill="#6a6a6a" stroke="#6a6a6a" stroke-width="0" textLength="96.1" lengthAdjust="spacingAndGlyphs" >EURCHF-,Weekly</text>
<text x="681.2" y="836.7" font-size="12.5" fill="#6a6a6a" stroke="#6a6a6a" stroke-width="0" textLength="85.4" lengthAdjust="spacingAndGlyphs" >XAUUSD-,Daily</text>
<text x="789.2" y="836.7" font-size="12.5" fill="#6a6a6a" stroke="#6a6a6a" stroke-width="0" textLength="72.2" lengthAdjust="spacingAndGlyphs" >GBPUSD-,H1</text>
<text x="885.1" y="836.7" font-size="12.5" fill="#6a6a6a" stroke="#6a6a6a" stroke-width="0" textLength="56.5" lengthAdjust="spacingAndGlyphs" >UKOil-,H1</text>
<text x="964.1" y="836.7" font-size="12.5" fill="#6a6a6a" stroke="#6a6a6a" stroke-width="0" textLength="82.1" lengthAdjust="spacingAndGlyphs" >USDX-,Weekly</text>
<text x="1068.7" y="836.7" font-size="12.5" fill="#6a6a6a" stroke="#6a6a6a" stroke-width="0" textLength="96.7" lengthAdjust="spacingAndGlyphs" >EURCHF-,Weekly</text>
<rect x="114" y="825" width="1" height="14" fill="#606060"/>
<rect x="438" y="825" width="1" height="14" fill="#606060"/>
<rect x="550" y="825" width="1" height="14" fill="#606060"/>
<rect x="671" y="825" width="1" height="14" fill="#606060"/>
<rect x="778" y="825" width="1" height="14" fill="#606060"/>
<rect x="874" y="825" width="1" height="14" fill="#606060"/>
<rect x="954" y="825" width="1" height="14" fill="#606060"/>
<rect x="1058" y="825" width="1" height="14" fill="#606060"/>
<rect x="1178" y="825" width="1" height="14" fill="#606060"/>
<path d="M1439.3 827.5v7l-3.8-3.5z M1454.7 827.5v7l3.8-3.5z" fill="#8c8c8c" shape-rendering="auto"/>
</svg>
</body></html>
